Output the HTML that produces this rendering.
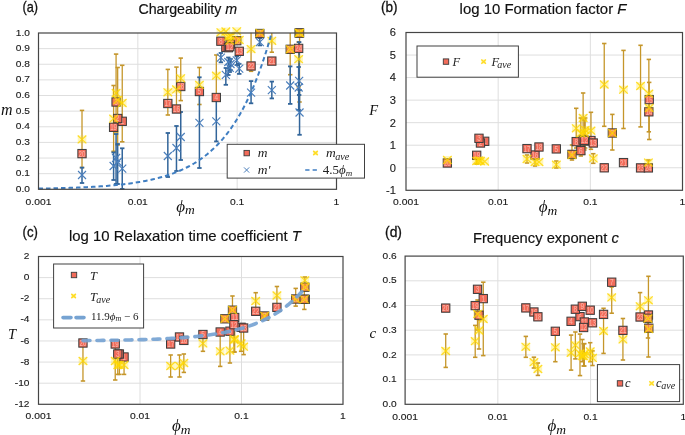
<!DOCTYPE html><html><head><meta charset="utf-8"><style>html,body{margin:0;padding:0;background:#fff;width:685px;height:435px;overflow:hidden}svg{display:block;font-family:"Liberation Sans",sans-serif;will-change:transform}</style></head><body><svg width="685" height="435" viewBox="0 0 685 435"><rect width="685" height="435" fill="#fff"/><line x1="38.5" y1="173.67" x2="336.5" y2="173.67" stroke="#DEDEDE" stroke-width="1"/><line x1="38.5" y1="158.04" x2="336.5" y2="158.04" stroke="#DEDEDE" stroke-width="1"/><line x1="38.5" y1="142.41" x2="336.5" y2="142.41" stroke="#DEDEDE" stroke-width="1"/><line x1="38.5" y1="126.78" x2="336.5" y2="126.78" stroke="#DEDEDE" stroke-width="1"/><line x1="38.5" y1="111.15" x2="336.5" y2="111.15" stroke="#DEDEDE" stroke-width="1"/><line x1="38.5" y1="95.52" x2="336.5" y2="95.52" stroke="#DEDEDE" stroke-width="1"/><line x1="38.5" y1="79.89" x2="336.5" y2="79.89" stroke="#DEDEDE" stroke-width="1"/><line x1="38.5" y1="64.26" x2="336.5" y2="64.26" stroke="#DEDEDE" stroke-width="1"/><line x1="38.5" y1="48.63" x2="336.5" y2="48.63" stroke="#DEDEDE" stroke-width="1"/><line x1="137.83" y1="33" x2="137.83" y2="189.3" stroke="#DEDEDE" stroke-width="1"/><line x1="237.17" y1="33" x2="237.17" y2="189.3" stroke="#DEDEDE" stroke-width="1"/><text x="29.9" y="191.9" font-size="8.6" font-family="Liberation Sans" fill="#1a1a1a" text-anchor="end" textLength="14.11" lengthAdjust="spacingAndGlyphs" stroke="#1a1a1a" stroke-width="0.12">0.0</text><text x="29.9" y="176.27" font-size="8.6" font-family="Liberation Sans" fill="#1a1a1a" text-anchor="end" textLength="14.11" lengthAdjust="spacingAndGlyphs" stroke="#1a1a1a" stroke-width="0.12">0.1</text><text x="29.9" y="160.64" font-size="8.6" font-family="Liberation Sans" fill="#1a1a1a" text-anchor="end" textLength="14.11" lengthAdjust="spacingAndGlyphs" stroke="#1a1a1a" stroke-width="0.12">0.2</text><text x="29.9" y="145.01" font-size="8.6" font-family="Liberation Sans" fill="#1a1a1a" text-anchor="end" textLength="14.11" lengthAdjust="spacingAndGlyphs" stroke="#1a1a1a" stroke-width="0.12">0.3</text><text x="29.9" y="129.38" font-size="8.6" font-family="Liberation Sans" fill="#1a1a1a" text-anchor="end" textLength="14.11" lengthAdjust="spacingAndGlyphs" stroke="#1a1a1a" stroke-width="0.12">0.4</text><text x="29.9" y="113.75" font-size="8.6" font-family="Liberation Sans" fill="#1a1a1a" text-anchor="end" textLength="14.11" lengthAdjust="spacingAndGlyphs" stroke="#1a1a1a" stroke-width="0.12">0.5</text><text x="29.9" y="98.12" font-size="8.6" font-family="Liberation Sans" fill="#1a1a1a" text-anchor="end" textLength="14.11" lengthAdjust="spacingAndGlyphs" stroke="#1a1a1a" stroke-width="0.12">0.6</text><text x="29.9" y="82.49" font-size="8.6" font-family="Liberation Sans" fill="#1a1a1a" text-anchor="end" textLength="14.11" lengthAdjust="spacingAndGlyphs" stroke="#1a1a1a" stroke-width="0.12">0.7</text><text x="29.9" y="66.86" font-size="8.6" font-family="Liberation Sans" fill="#1a1a1a" text-anchor="end" textLength="14.11" lengthAdjust="spacingAndGlyphs" stroke="#1a1a1a" stroke-width="0.12">0.8</text><text x="29.9" y="51.23" font-size="8.6" font-family="Liberation Sans" fill="#1a1a1a" text-anchor="end" textLength="14.11" lengthAdjust="spacingAndGlyphs" stroke="#1a1a1a" stroke-width="0.12">0.9</text><text x="29.9" y="35.6" font-size="8.6" font-family="Liberation Sans" fill="#1a1a1a" text-anchor="end" textLength="14.11" lengthAdjust="spacingAndGlyphs" stroke="#1a1a1a" stroke-width="0.12">1.0</text><text x="38.5" y="204.5" font-size="8.6" font-family="Liberation Sans" fill="#1a1a1a" text-anchor="middle" textLength="25.82" lengthAdjust="spacingAndGlyphs" stroke="#1a1a1a" stroke-width="0.12">0.001</text><text x="137.83" y="204.5" font-size="8.6" font-family="Liberation Sans" fill="#1a1a1a" text-anchor="middle" textLength="20.08" lengthAdjust="spacingAndGlyphs" stroke="#1a1a1a" stroke-width="0.12">0.01</text><text x="237.17" y="204.5" font-size="8.6" font-family="Liberation Sans" fill="#1a1a1a" text-anchor="middle" textLength="14.34" lengthAdjust="spacingAndGlyphs" stroke="#1a1a1a" stroke-width="0.12">0.1</text><text x="336.5" y="204.5" font-size="8.6" font-family="Liberation Sans" fill="#1a1a1a" text-anchor="middle" textLength="5.74" lengthAdjust="spacingAndGlyphs" stroke="#1a1a1a" stroke-width="0.12">1</text><line x1="82.01" y1="110.4" x2="82.01" y2="167.6" stroke="#C5962A" stroke-width="1.3"/><line x1="79.81" y1="110.4" x2="84.21" y2="110.4" stroke="#C5962A" stroke-width="1.6"/><line x1="79.81" y1="167.6" x2="84.21" y2="167.6" stroke="#C5962A" stroke-width="1.6"/><line x1="113.6" y1="85.5" x2="113.6" y2="151.3" stroke="#C5962A" stroke-width="1.3"/><line x1="111.4" y1="85.5" x2="115.8" y2="85.5" stroke="#C5962A" stroke-width="1.6"/><line x1="111.4" y1="151.3" x2="115.8" y2="151.3" stroke="#C5962A" stroke-width="1.6"/><line x1="116.08" y1="54.1" x2="116.08" y2="132" stroke="#C5962A" stroke-width="1.3"/><line x1="113.88" y1="54.1" x2="118.28" y2="54.1" stroke="#C5962A" stroke-width="1.6"/><line x1="113.88" y1="132" x2="118.28" y2="132" stroke="#C5962A" stroke-width="1.6"/><line x1="117.67" y1="67.5" x2="117.67" y2="145" stroke="#C5962A" stroke-width="1.3"/><line x1="115.47" y1="67.5" x2="119.87" y2="67.5" stroke="#C5962A" stroke-width="1.6"/><line x1="115.47" y1="145" x2="119.87" y2="145" stroke="#C5962A" stroke-width="1.6"/><line x1="122.24" y1="65.3" x2="122.24" y2="141.8" stroke="#C5962A" stroke-width="1.3"/><line x1="120.04" y1="65.3" x2="124.44" y2="65.3" stroke="#C5962A" stroke-width="1.6"/><line x1="120.04" y1="141.8" x2="124.44" y2="141.8" stroke="#C5962A" stroke-width="1.6"/><line x1="167.83" y1="69.4" x2="167.83" y2="115" stroke="#C5962A" stroke-width="1.3"/><line x1="165.63" y1="69.4" x2="170.03" y2="69.4" stroke="#C5962A" stroke-width="1.6"/><line x1="165.63" y1="115" x2="170.03" y2="115" stroke="#C5962A" stroke-width="1.6"/><line x1="176.47" y1="67.1" x2="176.47" y2="112" stroke="#C5962A" stroke-width="1.3"/><line x1="174.27" y1="67.1" x2="178.67" y2="67.1" stroke="#C5962A" stroke-width="1.6"/><line x1="174.27" y1="112" x2="178.67" y2="112" stroke="#C5962A" stroke-width="1.6"/><line x1="180.75" y1="58.1" x2="180.75" y2="100.6" stroke="#C5962A" stroke-width="1.3"/><line x1="178.55" y1="58.1" x2="182.95" y2="58.1" stroke="#C5962A" stroke-width="1.6"/><line x1="178.55" y1="100.6" x2="182.95" y2="100.6" stroke="#C5962A" stroke-width="1.6"/><line x1="199.42" y1="67.5" x2="199.42" y2="104.5" stroke="#C5962A" stroke-width="1.3"/><line x1="197.22" y1="67.5" x2="201.62" y2="67.5" stroke="#C5962A" stroke-width="1.6"/><line x1="197.22" y1="104.5" x2="201.62" y2="104.5" stroke="#C5962A" stroke-width="1.6"/><line x1="216.31" y1="55" x2="216.31" y2="97" stroke="#C5962A" stroke-width="1.3"/><line x1="214.11" y1="55" x2="218.51" y2="55" stroke="#C5962A" stroke-width="1.6"/><line x1="214.11" y1="97" x2="218.51" y2="97" stroke="#C5962A" stroke-width="1.6"/><line x1="251.07" y1="32.8" x2="251.07" y2="71.3" stroke="#C5962A" stroke-width="1.3"/><line x1="248.87" y1="71.3" x2="253.27" y2="71.3" stroke="#C5962A" stroke-width="1.6"/><line x1="271.83" y1="32.9" x2="271.83" y2="52.2" stroke="#C5962A" stroke-width="1.3"/><line x1="269.63" y1="52.2" x2="274.03" y2="52.2" stroke="#C5962A" stroke-width="1.6"/><line x1="290.21" y1="32.9" x2="290.21" y2="74.7" stroke="#C5962A" stroke-width="1.3"/><line x1="288.01" y1="74.7" x2="292.41" y2="74.7" stroke="#C5962A" stroke-width="1.6"/><line x1="298.65" y1="42" x2="298.65" y2="86.8" stroke="#C5962A" stroke-width="1.3"/><line x1="296.45" y1="42" x2="300.85" y2="42" stroke="#C5962A" stroke-width="1.6"/><line x1="296.45" y1="86.8" x2="300.85" y2="86.8" stroke="#C5962A" stroke-width="1.6"/><line x1="299.55" y1="33" x2="299.55" y2="102" stroke="#C5962A" stroke-width="1.3"/><line x1="297.35" y1="102" x2="301.75" y2="102" stroke="#C5962A" stroke-width="1.6"/><line x1="82.01" y1="167.6" x2="82.01" y2="183" stroke="#32659A" stroke-width="1.5"/><line x1="79.81" y1="167.6" x2="84.21" y2="167.6" stroke="#32659A" stroke-width="1.8"/><line x1="79.81" y1="183" x2="84.21" y2="183" stroke="#32659A" stroke-width="1.8"/><line x1="113.6" y1="152.4" x2="113.6" y2="180" stroke="#32659A" stroke-width="1.5"/><line x1="111.4" y1="152.4" x2="115.8" y2="152.4" stroke="#32659A" stroke-width="1.8"/><line x1="111.4" y1="180" x2="115.8" y2="180" stroke="#32659A" stroke-width="1.8"/><line x1="116.08" y1="134" x2="116.08" y2="184" stroke="#32659A" stroke-width="1.5"/><line x1="113.88" y1="134" x2="118.28" y2="134" stroke="#32659A" stroke-width="1.8"/><line x1="113.88" y1="184" x2="118.28" y2="184" stroke="#32659A" stroke-width="1.8"/><line x1="117.67" y1="144" x2="117.67" y2="184" stroke="#32659A" stroke-width="1.5"/><line x1="115.47" y1="144" x2="119.87" y2="144" stroke="#32659A" stroke-width="1.8"/><line x1="115.47" y1="184" x2="119.87" y2="184" stroke="#32659A" stroke-width="1.8"/><line x1="122.24" y1="148.3" x2="122.24" y2="189" stroke="#32659A" stroke-width="1.5"/><line x1="120.04" y1="148.3" x2="124.44" y2="148.3" stroke="#32659A" stroke-width="1.8"/><line x1="120.04" y1="189" x2="124.44" y2="189" stroke="#32659A" stroke-width="1.8"/><line x1="167.83" y1="133" x2="167.83" y2="177" stroke="#32659A" stroke-width="1.5"/><line x1="165.63" y1="133" x2="170.03" y2="133" stroke="#32659A" stroke-width="1.8"/><line x1="165.63" y1="177" x2="170.03" y2="177" stroke="#32659A" stroke-width="1.8"/><line x1="176.47" y1="126" x2="176.47" y2="171" stroke="#32659A" stroke-width="1.5"/><line x1="174.27" y1="126" x2="178.67" y2="126" stroke="#32659A" stroke-width="1.8"/><line x1="174.27" y1="171" x2="178.67" y2="171" stroke="#32659A" stroke-width="1.8"/><line x1="180.75" y1="112" x2="180.75" y2="160" stroke="#32659A" stroke-width="1.5"/><line x1="178.55" y1="112" x2="182.95" y2="112" stroke="#32659A" stroke-width="1.8"/><line x1="178.55" y1="160" x2="182.95" y2="160" stroke="#32659A" stroke-width="1.8"/><line x1="199.42" y1="77.3" x2="199.42" y2="168" stroke="#32659A" stroke-width="1.5"/><line x1="197.22" y1="77.3" x2="201.62" y2="77.3" stroke="#32659A" stroke-width="1.8"/><line x1="197.22" y1="168" x2="201.62" y2="168" stroke="#32659A" stroke-width="1.8"/><line x1="216.31" y1="97" x2="216.31" y2="141.4" stroke="#32659A" stroke-width="1.5"/><line x1="214.11" y1="97" x2="218.51" y2="97" stroke="#32659A" stroke-width="1.8"/><line x1="214.11" y1="141.4" x2="218.51" y2="141.4" stroke="#32659A" stroke-width="1.8"/><line x1="220.88" y1="53" x2="220.88" y2="62.3" stroke="#32659A" stroke-width="1.5"/><line x1="218.68" y1="53" x2="223.08" y2="53" stroke="#32659A" stroke-width="1.8"/><line x1="218.68" y1="62.3" x2="223.08" y2="62.3" stroke="#32659A" stroke-width="1.8"/><line x1="225.84" y1="68" x2="225.84" y2="84.8" stroke="#32659A" stroke-width="1.5"/><line x1="223.64" y1="68" x2="228.04" y2="68" stroke="#32659A" stroke-width="1.8"/><line x1="223.64" y1="84.8" x2="228.04" y2="84.8" stroke="#32659A" stroke-width="1.8"/><line x1="228.33" y1="57.5" x2="228.33" y2="75" stroke="#32659A" stroke-width="1.5"/><line x1="226.13" y1="57.5" x2="230.53" y2="57.5" stroke="#32659A" stroke-width="1.8"/><line x1="226.13" y1="75" x2="230.53" y2="75" stroke="#32659A" stroke-width="1.8"/><line x1="229.72" y1="61" x2="229.72" y2="72" stroke="#32659A" stroke-width="1.5"/><line x1="227.52" y1="61" x2="231.92" y2="61" stroke="#32659A" stroke-width="1.8"/><line x1="227.52" y1="72" x2="231.92" y2="72" stroke="#32659A" stroke-width="1.8"/><line x1="230.51" y1="59" x2="230.51" y2="70" stroke="#32659A" stroke-width="1.5"/><line x1="228.31" y1="59" x2="232.71" y2="59" stroke="#32659A" stroke-width="1.8"/><line x1="228.31" y1="70" x2="232.71" y2="70" stroke="#32659A" stroke-width="1.8"/><line x1="236.77" y1="56.4" x2="236.77" y2="65.1" stroke="#32659A" stroke-width="1.5"/><line x1="234.57" y1="56.4" x2="238.97" y2="56.4" stroke="#32659A" stroke-width="1.8"/><line x1="234.57" y1="65.1" x2="238.97" y2="65.1" stroke="#32659A" stroke-width="1.8"/><line x1="239.25" y1="63.8" x2="239.25" y2="73.9" stroke="#32659A" stroke-width="1.5"/><line x1="237.05" y1="63.8" x2="241.45" y2="63.8" stroke="#32659A" stroke-width="1.8"/><line x1="237.05" y1="73.9" x2="241.45" y2="73.9" stroke="#32659A" stroke-width="1.8"/><line x1="251.07" y1="81.1" x2="251.07" y2="103.3" stroke="#32659A" stroke-width="1.5"/><line x1="248.87" y1="81.1" x2="253.27" y2="81.1" stroke="#32659A" stroke-width="1.8"/><line x1="248.87" y1="103.3" x2="253.27" y2="103.3" stroke="#32659A" stroke-width="1.8"/><line x1="259.81" y1="38" x2="259.81" y2="45.4" stroke="#32659A" stroke-width="1.5"/><line x1="257.61" y1="38" x2="262.01" y2="38" stroke="#32659A" stroke-width="1.8"/><line x1="257.61" y1="45.4" x2="262.01" y2="45.4" stroke="#32659A" stroke-width="1.8"/><line x1="271.83" y1="81.6" x2="271.83" y2="98.4" stroke="#32659A" stroke-width="1.5"/><line x1="269.63" y1="81.6" x2="274.03" y2="81.6" stroke="#32659A" stroke-width="1.8"/><line x1="269.63" y1="98.4" x2="274.03" y2="98.4" stroke="#32659A" stroke-width="1.8"/><line x1="290.21" y1="66.4" x2="290.21" y2="103.9" stroke="#32659A" stroke-width="1.5"/><line x1="288.01" y1="66.4" x2="292.41" y2="66.4" stroke="#32659A" stroke-width="1.8"/><line x1="288.01" y1="103.9" x2="292.41" y2="103.9" stroke="#32659A" stroke-width="1.8"/><line x1="299.15" y1="42.1" x2="299.15" y2="95" stroke="#32659A" stroke-width="1.5"/><line x1="296.95" y1="42.1" x2="301.35" y2="42.1" stroke="#32659A" stroke-width="1.8"/><line x1="296.95" y1="95" x2="301.35" y2="95" stroke="#32659A" stroke-width="1.8"/><line x1="298.65" y1="67" x2="298.65" y2="110" stroke="#32659A" stroke-width="1.5"/><line x1="296.45" y1="67" x2="300.85" y2="67" stroke="#32659A" stroke-width="1.8"/><line x1="296.45" y1="110" x2="300.85" y2="110" stroke="#32659A" stroke-width="1.8"/><line x1="299.55" y1="90" x2="299.55" y2="134.8" stroke="#32659A" stroke-width="1.5"/><line x1="297.35" y1="90" x2="301.75" y2="90" stroke="#32659A" stroke-width="1.8"/><line x1="297.35" y1="134.8" x2="301.75" y2="134.8" stroke="#32659A" stroke-width="1.8"/><path d="M78.01 171L86.01 179M78.01 179L86.01 171" stroke="#4A7EBB" stroke-width="1.15" fill="none"/><path d="M109.6 162L117.6 170M109.6 170L117.6 162" stroke="#4A7EBB" stroke-width="1.15" fill="none"/><path d="M112.08 154L120.08 162M112.08 162L120.08 154" stroke="#4A7EBB" stroke-width="1.15" fill="none"/><path d="M113.67 158L121.67 166M113.67 166L121.67 158" stroke="#4A7EBB" stroke-width="1.15" fill="none"/><path d="M118.24 164.7L126.24 172.7M118.24 172.7L126.24 164.7" stroke="#4A7EBB" stroke-width="1.15" fill="none"/><path d="M163.83 152L171.83 160M163.83 160L171.83 152" stroke="#4A7EBB" stroke-width="1.15" fill="none"/><path d="M172.47 144L180.47 152M172.47 152L180.47 144" stroke="#4A7EBB" stroke-width="1.15" fill="none"/><path d="M176.75 133L184.75 141M176.75 141L184.75 133" stroke="#4A7EBB" stroke-width="1.15" fill="none"/><path d="M195.42 118.9L203.42 126.9M195.42 126.9L203.42 118.9" stroke="#4A7EBB" stroke-width="1.15" fill="none"/><path d="M212.31 117.3L220.31 125.3M212.31 125.3L220.31 117.3" stroke="#4A7EBB" stroke-width="1.15" fill="none"/><path d="M216.88 53.7L224.88 61.7M216.88 61.7L224.88 53.7" stroke="#4A7EBB" stroke-width="1.15" fill="none"/><path d="M221.84 70.8L229.84 78.8M221.84 78.8L229.84 70.8" stroke="#4A7EBB" stroke-width="1.15" fill="none"/><path d="M224.33 58L232.33 66M224.33 66L232.33 58" stroke="#4A7EBB" stroke-width="1.15" fill="none"/><path d="M225.72 63.8L233.72 71.8M225.72 71.8L233.72 63.8" stroke="#4A7EBB" stroke-width="1.15" fill="none"/><path d="M226.51 60L234.51 68M226.51 68L234.51 60" stroke="#4A7EBB" stroke-width="1.15" fill="none"/><path d="M232.77 56.3L240.77 64.3M232.77 64.3L240.77 56.3" stroke="#4A7EBB" stroke-width="1.15" fill="none"/><path d="M235.25 64.6L243.25 72.6M235.25 72.6L243.25 64.6" stroke="#4A7EBB" stroke-width="1.15" fill="none"/><path d="M247.07 88.7L255.07 96.7M247.07 96.7L255.07 88.7" stroke="#4A7EBB" stroke-width="1.15" fill="none"/><path d="M255.81 38.1L263.81 46.1M255.81 46.1L263.81 38.1" stroke="#4A7EBB" stroke-width="1.15" fill="none"/><path d="M267.83 86.1L275.83 94.1M267.83 94.1L275.83 86.1" stroke="#4A7EBB" stroke-width="1.15" fill="none"/><path d="M286.21 81.5L294.21 89.5M286.21 89.5L294.21 81.5" stroke="#4A7EBB" stroke-width="1.15" fill="none"/><path d="M295.15 76.9L303.15 84.9M295.15 84.9L303.15 76.9" stroke="#4A7EBB" stroke-width="1.15" fill="none"/><path d="M294.65 83.5L302.65 91.5M294.65 91.5L302.65 83.5" stroke="#4A7EBB" stroke-width="1.15" fill="none"/><path d="M295.55 108.5L303.55 116.5M295.55 116.5L303.55 108.5" stroke="#4A7EBB" stroke-width="1.15" fill="none"/><rect x="118.09" y="117.15" width="8.3" height="8.3" fill="#F26C5A" stroke="#3b3b3b" stroke-width="1"/><text x="122.24" y="124.2" font-size="8.2" fill="#FFE0D8" fill-opacity="0.62" text-anchor="middle" font-family="Liberation Sans" textLength="3.6" lengthAdjust="spacingAndGlyphs">1</text><rect x="113.52" y="114.35" width="8.3" height="8.3" fill="#F26C5A" stroke="#3b3b3b" stroke-width="1"/><text x="117.67" y="121.4" font-size="8.2" fill="#FFE0D8" fill-opacity="0.62" text-anchor="middle" font-family="Liberation Sans" textLength="3.6" lengthAdjust="spacingAndGlyphs">2</text><rect x="111.93" y="97.85" width="8.3" height="8.3" fill="#F26C5A" stroke="#3b3b3b" stroke-width="1"/><text x="116.08" y="104.9" font-size="8.2" fill="#FFE0D8" fill-opacity="0.62" text-anchor="middle" font-family="Liberation Sans" textLength="3.6" lengthAdjust="spacingAndGlyphs">3</text><rect x="212.16" y="93.35" width="8.3" height="8.3" fill="#F26C5A" stroke="#3b3b3b" stroke-width="1"/><text x="216.31" y="100.4" font-size="8.2" fill="#FFE0D8" fill-opacity="0.62" text-anchor="middle" font-family="Liberation Sans" textLength="3.6" lengthAdjust="spacingAndGlyphs">4</text><rect x="195.27" y="87.35" width="8.3" height="8.3" fill="#F26C5A" stroke="#3b3b3b" stroke-width="1"/><text x="199.42" y="94.4" font-size="8.2" fill="#FFE0D8" fill-opacity="0.62" text-anchor="middle" font-family="Liberation Sans" textLength="3.6" lengthAdjust="spacingAndGlyphs">5</text><rect x="221.69" y="43.15" width="8.3" height="8.3" fill="#F26C5A" stroke="#3b3b3b" stroke-width="1"/><text x="225.84" y="50.2" font-size="8.2" fill="#FFE0D8" fill-opacity="0.62" text-anchor="middle" font-family="Liberation Sans" textLength="3.6" lengthAdjust="spacingAndGlyphs">6</text><rect x="255.66" y="29.35" width="8.3" height="8.3" fill="#F26C5A" stroke="#3b3b3b" stroke-width="1"/><text x="259.81" y="36.4" font-size="8.2" fill="#FFE0D8" fill-opacity="0.62" text-anchor="middle" font-family="Liberation Sans" textLength="3.6" lengthAdjust="spacingAndGlyphs">7</text><rect x="216.73" y="37.05" width="8.3" height="8.3" fill="#F26C5A" stroke="#3b3b3b" stroke-width="1"/><text x="220.88" y="44.1" font-size="8.2" fill="#FFE0D8" fill-opacity="0.62" text-anchor="middle" font-family="Liberation Sans" textLength="3.6" lengthAdjust="spacingAndGlyphs">8</text><rect x="224.18" y="43.55" width="8.3" height="8.3" fill="#F26C5A" stroke="#3b3b3b" stroke-width="1"/><text x="228.33" y="50.6" font-size="8.2" fill="#FFE0D8" fill-opacity="0.62" text-anchor="middle" font-family="Liberation Sans" textLength="3.6" lengthAdjust="spacingAndGlyphs">9</text><rect x="232.62" y="36.55" width="8.3" height="8.3" fill="#F26C5A" stroke="#3b3b3b" stroke-width="1"/><text x="236.77" y="43.6" font-size="8.2" fill="#FFE0D8" fill-opacity="0.62" text-anchor="middle" font-family="Liberation Sans" textLength="6.8" lengthAdjust="spacingAndGlyphs">10</text><rect x="226.36" y="39.85" width="8.3" height="8.3" fill="#F26C5A" stroke="#3b3b3b" stroke-width="1"/><text x="230.51" y="46.9" font-size="8.2" fill="#FFE0D8" fill-opacity="0.62" text-anchor="middle" font-family="Liberation Sans" textLength="6.8" lengthAdjust="spacingAndGlyphs">11</text><rect x="225.57" y="42.55" width="8.3" height="8.3" fill="#F26C5A" stroke="#3b3b3b" stroke-width="1"/><text x="229.72" y="49.6" font-size="8.2" fill="#FFE0D8" fill-opacity="0.62" text-anchor="middle" font-family="Liberation Sans" textLength="6.8" lengthAdjust="spacingAndGlyphs">12</text><rect x="235.1" y="47.15" width="8.3" height="8.3" fill="#F26C5A" stroke="#3b3b3b" stroke-width="1"/><text x="239.25" y="54.2" font-size="8.2" fill="#FFE0D8" fill-opacity="0.62" text-anchor="middle" font-family="Liberation Sans" textLength="6.8" lengthAdjust="spacingAndGlyphs">13</text><rect x="295" y="28.85" width="8.3" height="8.3" fill="#F26C5A" stroke="#3b3b3b" stroke-width="1"/><text x="299.15" y="35.9" font-size="8.2" fill="#FFE0D8" fill-opacity="0.62" text-anchor="middle" font-family="Liberation Sans" textLength="6.8" lengthAdjust="spacingAndGlyphs">14</text><rect x="295.4" y="28.85" width="8.3" height="8.3" fill="#F26C5A" stroke="#3b3b3b" stroke-width="1"/><text x="299.55" y="35.9" font-size="8.2" fill="#FFE0D8" fill-opacity="0.62" text-anchor="middle" font-family="Liberation Sans" textLength="6.8" lengthAdjust="spacingAndGlyphs">15</text><rect x="172.32" y="104.85" width="8.3" height="8.3" fill="#F26C5A" stroke="#3b3b3b" stroke-width="1"/><text x="176.47" y="111.9" font-size="8.2" fill="#FFE0D8" fill-opacity="0.62" text-anchor="middle" font-family="Liberation Sans" textLength="6.8" lengthAdjust="spacingAndGlyphs">16</text><rect x="163.68" y="99.35" width="8.3" height="8.3" fill="#F26C5A" stroke="#3b3b3b" stroke-width="1"/><text x="167.83" y="106.4" font-size="8.2" fill="#FFE0D8" fill-opacity="0.62" text-anchor="middle" font-family="Liberation Sans" textLength="6.8" lengthAdjust="spacingAndGlyphs">17</text><rect x="176.6" y="82.35" width="8.3" height="8.3" fill="#F26C5A" stroke="#3b3b3b" stroke-width="1"/><text x="180.75" y="89.4" font-size="8.2" fill="#FFE0D8" fill-opacity="0.62" text-anchor="middle" font-family="Liberation Sans" textLength="6.8" lengthAdjust="spacingAndGlyphs">18</text><rect x="109.45" y="123.15" width="8.3" height="8.3" fill="#F26C5A" stroke="#3b3b3b" stroke-width="1"/><text x="113.6" y="130.2" font-size="8.2" fill="#FFE0D8" fill-opacity="0.62" text-anchor="middle" font-family="Liberation Sans" textLength="6.8" lengthAdjust="spacingAndGlyphs">19</text><rect x="77.86" y="149.45" width="8.3" height="8.3" fill="#F26C5A" stroke="#3b3b3b" stroke-width="1"/><text x="82.01" y="156.5" font-size="8.2" fill="#FFE0D8" fill-opacity="0.62" text-anchor="middle" font-family="Liberation Sans" textLength="6.8" lengthAdjust="spacingAndGlyphs">20</text><rect x="267.68" y="56.95" width="8.3" height="8.3" fill="#F26C5A" stroke="#3b3b3b" stroke-width="1"/><text x="271.83" y="64" font-size="8.2" fill="#FFE0D8" fill-opacity="0.62" text-anchor="middle" font-family="Liberation Sans" textLength="6.8" lengthAdjust="spacingAndGlyphs">21</text><rect x="246.92" y="61.85" width="8.3" height="8.3" fill="#F26C5A" stroke="#3b3b3b" stroke-width="1"/><text x="251.07" y="68.9" font-size="8.2" fill="#FFE0D8" fill-opacity="0.62" text-anchor="middle" font-family="Liberation Sans" textLength="6.8" lengthAdjust="spacingAndGlyphs">22</text><rect x="286.06" y="45.15" width="8.3" height="8.3" fill="#F26C5A" stroke="#3b3b3b" stroke-width="1"/><text x="290.21" y="52.2" font-size="8.2" fill="#FFE0D8" fill-opacity="0.62" text-anchor="middle" font-family="Liberation Sans" textLength="6.8" lengthAdjust="spacingAndGlyphs">23</text><rect x="294.5" y="44.25" width="8.3" height="8.3" fill="#F26C5A" stroke="#3b3b3b" stroke-width="1"/><text x="298.65" y="51.3" font-size="8.2" fill="#FFE0D8" fill-opacity="0.62" text-anchor="middle" font-family="Liberation Sans" textLength="6.8" lengthAdjust="spacingAndGlyphs">24</text><rect x="117.94" y="99.04" width="8.6" height="7.91" fill="#FFE000" fill-opacity="0.28"/><path d="M117.94 99.04L126.54 106.96M117.94 106.96L126.54 99.04" stroke="#FFD600" stroke-opacity="0.8" stroke-width="1.2" fill="none"/><rect x="113.37" y="96.04" width="8.6" height="7.91" fill="#FFE000" fill-opacity="0.28"/><path d="M113.37 96.04L121.97 103.96M113.37 103.96L121.97 96.04" stroke="#FFD600" stroke-opacity="0.8" stroke-width="1.2" fill="none"/><rect x="111.78" y="89.04" width="8.6" height="7.91" fill="#FFE000" fill-opacity="0.28"/><path d="M111.78 89.04L120.38 96.96M111.78 96.96L120.38 89.04" stroke="#FFD600" stroke-opacity="0.8" stroke-width="1.2" fill="none"/><rect x="212.01" y="71.74" width="8.6" height="7.91" fill="#FFE000" fill-opacity="0.28"/><path d="M212.01 71.74L220.61 79.66M212.01 79.66L220.61 71.74" stroke="#FFD600" stroke-opacity="0.8" stroke-width="1.2" fill="none"/><rect x="195.12" y="80.84" width="8.6" height="7.91" fill="#FFE000" fill-opacity="0.28"/><path d="M195.12 80.84L203.72 88.76M195.12 88.76L203.72 80.84" stroke="#FFD600" stroke-opacity="0.8" stroke-width="1.2" fill="none"/><rect x="221.54" y="27.54" width="8.6" height="7.91" fill="#FFE000" fill-opacity="0.28"/><path d="M221.54 27.54L230.14 35.46M221.54 35.46L230.14 27.54" stroke="#FFD600" stroke-opacity="0.8" stroke-width="1.2" fill="none"/><rect x="255.51" y="29.04" width="8.6" height="7.91" fill="#FFE000" fill-opacity="0.28"/><path d="M255.51 29.04L264.11 36.96M255.51 36.96L264.11 29.04" stroke="#FFD600" stroke-opacity="0.8" stroke-width="1.2" fill="none"/><rect x="216.58" y="28.34" width="8.6" height="7.91" fill="#FFE000" fill-opacity="0.28"/><path d="M216.58 28.34L225.18 36.26M216.58 36.26L225.18 28.34" stroke="#FFD600" stroke-opacity="0.8" stroke-width="1.2" fill="none"/><rect x="224.03" y="32.74" width="8.6" height="7.91" fill="#FFE000" fill-opacity="0.28"/><path d="M224.03 32.74L232.63 40.66M224.03 40.66L232.63 32.74" stroke="#FFD600" stroke-opacity="0.8" stroke-width="1.2" fill="none"/><rect x="232.47" y="27.34" width="8.6" height="7.91" fill="#FFE000" fill-opacity="0.28"/><path d="M232.47 27.34L241.07 35.26M232.47 35.26L241.07 27.34" stroke="#FFD600" stroke-opacity="0.8" stroke-width="1.2" fill="none"/><rect x="226.21" y="32.04" width="8.6" height="7.91" fill="#FFE000" fill-opacity="0.28"/><path d="M226.21 32.04L234.81 39.96M226.21 39.96L234.81 32.04" stroke="#FFD600" stroke-opacity="0.8" stroke-width="1.2" fill="none"/><rect x="225.42" y="36.74" width="8.6" height="7.91" fill="#FFE000" fill-opacity="0.28"/><path d="M225.42 36.74L234.02 44.66M225.42 44.66L234.02 36.74" stroke="#FFD600" stroke-opacity="0.8" stroke-width="1.2" fill="none"/><rect x="234.95" y="36.04" width="8.6" height="7.91" fill="#FFE000" fill-opacity="0.28"/><path d="M234.95 36.04L243.55 43.96M234.95 43.96L243.55 36.04" stroke="#FFD600" stroke-opacity="0.8" stroke-width="1.2" fill="none"/><rect x="294.85" y="28.94" width="8.6" height="7.91" fill="#FFE000" fill-opacity="0.28"/><path d="M294.85 28.94L303.45 36.86M294.85 36.86L303.45 28.94" stroke="#FFD600" stroke-opacity="0.8" stroke-width="1.2" fill="none"/><rect x="295.25" y="29.04" width="8.6" height="7.91" fill="#FFE000" fill-opacity="0.28"/><path d="M295.25 29.04L303.85 36.96M295.25 36.96L303.85 29.04" stroke="#FFD600" stroke-opacity="0.8" stroke-width="1.2" fill="none"/><rect x="172.17" y="85.44" width="8.6" height="7.91" fill="#FFE000" fill-opacity="0.28"/><path d="M172.17 85.44L180.77 93.36M172.17 93.36L180.77 85.44" stroke="#FFD600" stroke-opacity="0.8" stroke-width="1.2" fill="none"/><rect x="163.53" y="88.34" width="8.6" height="7.91" fill="#FFE000" fill-opacity="0.28"/><path d="M163.53 88.34L172.13 96.26M163.53 96.26L172.13 88.34" stroke="#FFD600" stroke-opacity="0.8" stroke-width="1.2" fill="none"/><rect x="176.45" y="74.34" width="8.6" height="7.91" fill="#FFE000" fill-opacity="0.28"/><path d="M176.45 74.34L185.05 82.26M176.45 82.26L185.05 74.34" stroke="#FFD600" stroke-opacity="0.8" stroke-width="1.2" fill="none"/><rect x="109.3" y="114.74" width="8.6" height="7.91" fill="#FFE000" fill-opacity="0.28"/><path d="M109.3 114.74L117.9 122.66M109.3 122.66L117.9 114.74" stroke="#FFD600" stroke-opacity="0.8" stroke-width="1.2" fill="none"/><rect x="77.71" y="135.44" width="8.6" height="7.91" fill="#FFE000" fill-opacity="0.28"/><path d="M77.71 135.44L86.31 143.36M77.71 143.36L86.31 135.44" stroke="#FFD600" stroke-opacity="0.8" stroke-width="1.2" fill="none"/><rect x="267.53" y="36.84" width="8.6" height="7.91" fill="#FFE000" fill-opacity="0.28"/><path d="M267.53 36.84L276.13 44.76M267.53 44.76L276.13 36.84" stroke="#FFD600" stroke-opacity="0.8" stroke-width="1.2" fill="none"/><rect x="246.77" y="45.14" width="8.6" height="7.91" fill="#FFE000" fill-opacity="0.28"/><path d="M246.77 45.14L255.37 53.06M246.77 53.06L255.37 45.14" stroke="#FFD600" stroke-opacity="0.8" stroke-width="1.2" fill="none"/><rect x="285.91" y="45.34" width="8.6" height="7.91" fill="#FFE000" fill-opacity="0.28"/><path d="M285.91 45.34L294.51 53.26M285.91 53.26L294.51 45.34" stroke="#FFD600" stroke-opacity="0.8" stroke-width="1.2" fill="none"/><rect x="294.35" y="55.24" width="8.6" height="7.91" fill="#FFE000" fill-opacity="0.28"/><path d="M294.35 55.24L302.95 63.16M294.35 63.16L302.95 55.24" stroke="#FFD600" stroke-opacity="0.8" stroke-width="1.2" fill="none"/><path d="M38.5 188.6 L40.44 188.56 L42.39 188.53 L44.33 188.49 L46.27 188.46 L48.21 188.42 L50.16 188.38 L52.1 188.34 L54.04 188.29 L55.98 188.25 L57.93 188.2 L59.87 188.15 L61.81 188.09 L63.75 188.04 L65.7 187.98 L67.64 187.92 L69.58 187.85 L71.52 187.79 L73.47 187.72 L75.41 187.65 L77.35 187.57 L79.29 187.49 L81.24 187.41 L83.18 187.32 L85.12 187.23 L87.07 187.13 L89.01 187.03 L90.95 186.93 L92.89 186.82 L94.84 186.7 L96.78 186.58 L98.72 186.46 L100.66 186.33 L102.61 186.19 L104.55 186.05 L106.49 185.9 L108.43 185.74 L110.38 185.58 L112.32 185.41 L114.26 185.23 L116.2 185.04 L118.15 184.84 L120.09 184.64 L122.03 184.42 L123.98 184.2 L125.92 183.96 L127.86 183.72 L129.8 183.46 L131.75 183.19 L133.69 182.91 L135.63 182.62 L137.57 182.31 L139.52 181.99 L141.46 181.65 L143.4 181.3 L145.34 180.93 L147.29 180.54 L149.23 180.14 L151.17 179.72 L153.11 179.28 L155.06 178.82 L157 178.33 L158.94 177.83 L160.88 177.3 L162.83 176.75 L164.77 176.17 L166.71 175.56 L168.66 174.93 L170.6 174.27 L172.54 173.58 L174.48 172.85 L176.43 172.09 L178.37 171.3 L180.31 170.47 L182.25 169.6 L184.2 168.7 L186.14 167.75 L188.08 166.76 L190.02 165.72 L191.97 164.63 L193.91 163.5 L195.85 162.31 L197.79 161.06 L199.74 159.76 L201.68 158.4 L203.62 156.98 L205.57 155.49 L207.51 153.93 L209.45 152.3 L211.39 150.6 L213.34 148.82 L215.28 146.95 L217.22 145 L219.16 142.96 L221.11 140.83 L223.05 138.6 L224.99 136.26 L226.93 133.82 L228.88 131.26 L230.82 128.59 L232.76 125.79 L234.7 122.87 L236.65 119.81 L238.59 116.61 L240.53 113.26 L242.47 109.76 L244.42 106.09 L246.36 102.26 L248.3 98.25 L250.25 94.06 L252.19 89.67 L254.13 85.08 L256.07 80.28 L258.02 75.26 L259.96 70.01 L261.9 64.51 L263.84 58.76 L265.79 52.75 L267.73 46.46 L269.67 39.88 L271.61 33" stroke="#3F7EC2" stroke-width="2" stroke-dasharray="4.5 3" fill="none"/><rect x="38.5" y="33" width="298" height="156.3" fill="none" stroke="#454545" stroke-width="1.2"/><rect x="227.2" y="144.3" width="137.3" height="33.8" fill="#fff" stroke="#404040" stroke-width="1"/><rect x="244" y="150.4" width="5.4" height="5.4" fill="#F26C5A" stroke="#3b3b3b" stroke-width="0.9"/><text x="257.7" y="156.8" font-size="13.5" font-family="Liberation Serif" font-style="italic" fill="#222" text-anchor="start">m</text><rect x="313.2" y="150.88" width="4.6" height="4.23" fill="#FFE000" fill-opacity="0.28"/><path d="M313.2 150.88L317.8 155.12M313.2 155.12L317.8 150.88" stroke="#FFD600" stroke-opacity="0.8" stroke-width="1.4" fill="none"/><text x="325.9" y="156.8" font-size="13.5" font-family="Liberation Serif" font-style="italic" fill="#222" text-anchor="start">m</text><text x="335.2" y="159.5" font-size="10" font-family="Liberation Serif" font-style="italic" fill="#222" text-anchor="start" textLength="14.2" lengthAdjust="spacingAndGlyphs">ave</text><path d="M244 167.4L249.2 172.6M244 172.6L249.2 167.4" stroke="#4A7EBB" stroke-width="1" fill="none"/><text x="257.7" y="174" font-size="13.5" font-family="Liberation Serif" font-style="italic" fill="#222" text-anchor="start">m′</text><path d="M305.2 170H309.5M312.6 170H316.9" stroke="#3F7EC2" stroke-width="1.7"/><text x="322.8" y="174" font-size="13" font-family="Liberation Serif" fill="#222" text-anchor="start">4.5<tspan font-style="italic">ϕ</tspan><tspan font-style="italic" font-size="9" dy="1.8">m</tspan></text><line x1="406" y1="167.76" x2="682.5" y2="167.76" stroke="#DEDEDE" stroke-width="1"/><line x1="406" y1="145.21" x2="682.5" y2="145.21" stroke="#DEDEDE" stroke-width="1"/><line x1="406" y1="122.67" x2="682.5" y2="122.67" stroke="#DEDEDE" stroke-width="1"/><line x1="406" y1="100.13" x2="682.5" y2="100.13" stroke="#DEDEDE" stroke-width="1"/><line x1="406" y1="77.59" x2="682.5" y2="77.59" stroke="#DEDEDE" stroke-width="1"/><line x1="406" y1="55.04" x2="682.5" y2="55.04" stroke="#DEDEDE" stroke-width="1"/><line x1="498.17" y1="32.5" x2="498.17" y2="190.3" stroke="#DEDEDE" stroke-width="1"/><line x1="590.33" y1="32.5" x2="590.33" y2="190.3" stroke="#DEDEDE" stroke-width="1"/><text x="396" y="194.2" font-size="10.3" font-family="Liberation Sans" fill="#1a1a1a" text-anchor="end" textLength="9.89" lengthAdjust="spacingAndGlyphs" stroke="#1a1a1a" stroke-width="0.12">-1</text><text x="396" y="171.66" font-size="10.3" font-family="Liberation Sans" fill="#1a1a1a" text-anchor="end" textLength="6.18" lengthAdjust="spacingAndGlyphs" stroke="#1a1a1a" stroke-width="0.12">0</text><text x="396" y="149.11" font-size="10.3" font-family="Liberation Sans" fill="#1a1a1a" text-anchor="end" textLength="6.18" lengthAdjust="spacingAndGlyphs" stroke="#1a1a1a" stroke-width="0.12">1</text><text x="396" y="126.57" font-size="10.3" font-family="Liberation Sans" fill="#1a1a1a" text-anchor="end" textLength="6.18" lengthAdjust="spacingAndGlyphs" stroke="#1a1a1a" stroke-width="0.12">2</text><text x="396" y="104.03" font-size="10.3" font-family="Liberation Sans" fill="#1a1a1a" text-anchor="end" textLength="6.18" lengthAdjust="spacingAndGlyphs" stroke="#1a1a1a" stroke-width="0.12">3</text><text x="396" y="81.49" font-size="10.3" font-family="Liberation Sans" fill="#1a1a1a" text-anchor="end" textLength="6.18" lengthAdjust="spacingAndGlyphs" stroke="#1a1a1a" stroke-width="0.12">4</text><text x="396" y="58.94" font-size="10.3" font-family="Liberation Sans" fill="#1a1a1a" text-anchor="end" textLength="6.18" lengthAdjust="spacingAndGlyphs" stroke="#1a1a1a" stroke-width="0.12">5</text><text x="396" y="36.4" font-size="10.3" font-family="Liberation Sans" fill="#1a1a1a" text-anchor="end" textLength="6.18" lengthAdjust="spacingAndGlyphs" stroke="#1a1a1a" stroke-width="0.12">6</text><text x="406" y="205" font-size="8.6" font-family="Liberation Sans" fill="#1a1a1a" text-anchor="middle" textLength="25.82" lengthAdjust="spacingAndGlyphs" stroke="#1a1a1a" stroke-width="0.12">0.001</text><text x="498.17" y="205" font-size="8.6" font-family="Liberation Sans" fill="#1a1a1a" text-anchor="middle" textLength="20.08" lengthAdjust="spacingAndGlyphs" stroke="#1a1a1a" stroke-width="0.12">0.01</text><text x="590.33" y="205" font-size="8.6" font-family="Liberation Sans" fill="#1a1a1a" text-anchor="middle" textLength="14.34" lengthAdjust="spacingAndGlyphs" stroke="#1a1a1a" stroke-width="0.12">0.1</text><text x="682.5" y="205" font-size="8.6" font-family="Liberation Sans" fill="#1a1a1a" text-anchor="middle" textLength="5.74" lengthAdjust="spacingAndGlyphs" stroke="#1a1a1a" stroke-width="0.12">1</text><line x1="476.68" y1="158" x2="476.68" y2="164" stroke="#C5962A" stroke-width="1.3"/><line x1="474.48" y1="158" x2="478.88" y2="158" stroke="#C5962A" stroke-width="1.6"/><line x1="474.48" y1="164" x2="478.88" y2="164" stroke="#C5962A" stroke-width="1.6"/><line x1="527" y1="155" x2="527" y2="163" stroke="#C5962A" stroke-width="1.3"/><line x1="524.8" y1="155" x2="529.2" y2="155" stroke="#C5962A" stroke-width="1.6"/><line x1="524.8" y1="163" x2="529.2" y2="163" stroke="#C5962A" stroke-width="1.6"/><line x1="535.02" y1="158" x2="535.02" y2="166" stroke="#C5962A" stroke-width="1.3"/><line x1="532.82" y1="158" x2="537.22" y2="158" stroke="#C5962A" stroke-width="1.6"/><line x1="532.82" y1="166" x2="537.22" y2="166" stroke="#C5962A" stroke-width="1.6"/><line x1="556.31" y1="161" x2="556.31" y2="168" stroke="#C5962A" stroke-width="1.3"/><line x1="554.11" y1="161" x2="558.51" y2="161" stroke="#C5962A" stroke-width="1.6"/><line x1="554.11" y1="168" x2="558.51" y2="168" stroke="#C5962A" stroke-width="1.6"/><line x1="571.98" y1="145" x2="571.98" y2="160" stroke="#C5962A" stroke-width="1.3"/><line x1="569.78" y1="145" x2="574.18" y2="145" stroke="#C5962A" stroke-width="1.6"/><line x1="569.78" y1="160" x2="574.18" y2="160" stroke="#C5962A" stroke-width="1.6"/><line x1="576.22" y1="108.3" x2="576.22" y2="148" stroke="#C5962A" stroke-width="1.3"/><line x1="574.02" y1="108.3" x2="578.42" y2="108.3" stroke="#C5962A" stroke-width="1.6"/><line x1="574.02" y1="148" x2="578.42" y2="148" stroke="#C5962A" stroke-width="1.6"/><line x1="580.83" y1="118" x2="580.83" y2="156" stroke="#C5962A" stroke-width="1.3"/><line x1="578.63" y1="118" x2="583.03" y2="118" stroke="#C5962A" stroke-width="1.6"/><line x1="578.63" y1="156" x2="583.03" y2="156" stroke="#C5962A" stroke-width="1.6"/><line x1="583.13" y1="93" x2="583.13" y2="154.3" stroke="#C5962A" stroke-width="1.3"/><line x1="580.93" y1="93" x2="585.33" y2="93" stroke="#C5962A" stroke-width="1.6"/><line x1="580.93" y1="154.3" x2="585.33" y2="154.3" stroke="#C5962A" stroke-width="1.6"/><line x1="584.42" y1="120" x2="584.42" y2="150" stroke="#C5962A" stroke-width="1.3"/><line x1="582.22" y1="120" x2="586.62" y2="120" stroke="#C5962A" stroke-width="1.6"/><line x1="582.22" y1="150" x2="586.62" y2="150" stroke="#C5962A" stroke-width="1.6"/><line x1="585.16" y1="118" x2="585.16" y2="148" stroke="#C5962A" stroke-width="1.3"/><line x1="582.96" y1="118" x2="587.36" y2="118" stroke="#C5962A" stroke-width="1.6"/><line x1="582.96" y1="148" x2="587.36" y2="148" stroke="#C5962A" stroke-width="1.6"/><line x1="590.96" y1="112.3" x2="590.96" y2="149.3" stroke="#C5962A" stroke-width="1.3"/><line x1="588.76" y1="112.3" x2="593.16" y2="112.3" stroke="#C5962A" stroke-width="1.6"/><line x1="588.76" y1="149.3" x2="593.16" y2="149.3" stroke="#C5962A" stroke-width="1.6"/><line x1="593.27" y1="153.7" x2="593.27" y2="163.3" stroke="#C5962A" stroke-width="1.3"/><line x1="591.07" y1="153.7" x2="595.47" y2="153.7" stroke="#C5962A" stroke-width="1.6"/><line x1="591.07" y1="163.3" x2="595.47" y2="163.3" stroke="#C5962A" stroke-width="1.6"/><line x1="604.24" y1="43.5" x2="604.24" y2="126.3" stroke="#C5962A" stroke-width="1.3"/><line x1="602.04" y1="43.5" x2="606.44" y2="43.5" stroke="#C5962A" stroke-width="1.6"/><line x1="602.04" y1="126.3" x2="606.44" y2="126.3" stroke="#C5962A" stroke-width="1.6"/><line x1="612.35" y1="114.4" x2="612.35" y2="150" stroke="#C5962A" stroke-width="1.3"/><line x1="610.15" y1="114.4" x2="614.55" y2="114.4" stroke="#C5962A" stroke-width="1.6"/><line x1="610.15" y1="150" x2="614.55" y2="150" stroke="#C5962A" stroke-width="1.6"/><line x1="623.5" y1="50.4" x2="623.5" y2="128.5" stroke="#C5962A" stroke-width="1.3"/><line x1="621.3" y1="50.4" x2="625.7" y2="50.4" stroke="#C5962A" stroke-width="1.6"/><line x1="621.3" y1="128.5" x2="625.7" y2="128.5" stroke="#C5962A" stroke-width="1.6"/><line x1="640.55" y1="45.3" x2="640.55" y2="126.9" stroke="#C5962A" stroke-width="1.3"/><line x1="638.35" y1="45.3" x2="642.75" y2="45.3" stroke="#C5962A" stroke-width="1.6"/><line x1="638.35" y1="126.9" x2="642.75" y2="126.9" stroke="#C5962A" stroke-width="1.6"/><line x1="648.85" y1="59.4" x2="648.85" y2="131.8" stroke="#C5962A" stroke-width="1.3"/><line x1="646.65" y1="59.4" x2="651.05" y2="59.4" stroke="#C5962A" stroke-width="1.6"/><line x1="646.65" y1="131.8" x2="651.05" y2="131.8" stroke="#C5962A" stroke-width="1.6"/><line x1="649.21" y1="82.4" x2="649.21" y2="139.5" stroke="#C5962A" stroke-width="1.3"/><line x1="647.01" y1="82.4" x2="651.41" y2="82.4" stroke="#C5962A" stroke-width="1.6"/><line x1="647.01" y1="139.5" x2="651.41" y2="139.5" stroke="#C5962A" stroke-width="1.6"/><line x1="648.38" y1="160" x2="648.38" y2="165" stroke="#C5962A" stroke-width="1.3"/><line x1="646.18" y1="160" x2="650.58" y2="160" stroke="#C5962A" stroke-width="1.6"/><line x1="646.18" y1="165" x2="650.58" y2="165" stroke="#C5962A" stroke-width="1.6"/><rect x="480.55" y="137.15" width="8.3" height="8.3" fill="#F26C5A" stroke="#3b3b3b" stroke-width="1"/><text x="484.7" y="144.2" font-size="8.2" fill="#FFE0D8" fill-opacity="0.62" text-anchor="middle" font-family="Liberation Sans" textLength="3.6" lengthAdjust="spacingAndGlyphs">1</text><rect x="476.31" y="138.85" width="8.3" height="8.3" fill="#F26C5A" stroke="#3b3b3b" stroke-width="1"/><text x="480.46" y="145.9" font-size="8.2" fill="#FFE0D8" fill-opacity="0.62" text-anchor="middle" font-family="Liberation Sans" textLength="3.6" lengthAdjust="spacingAndGlyphs">2</text><rect x="474.83" y="134.15" width="8.3" height="8.3" fill="#F26C5A" stroke="#3b3b3b" stroke-width="1"/><text x="478.98" y="141.2" font-size="8.2" fill="#FFE0D8" fill-opacity="0.62" text-anchor="middle" font-family="Liberation Sans" textLength="3.6" lengthAdjust="spacingAndGlyphs">3</text><rect x="567.83" y="150.25" width="8.3" height="8.3" fill="#F26C5A" stroke="#3b3b3b" stroke-width="1"/><text x="571.98" y="157.3" font-size="8.2" fill="#FFE0D8" fill-opacity="0.62" text-anchor="middle" font-family="Liberation Sans" textLength="3.6" lengthAdjust="spacingAndGlyphs">4</text><rect x="552.16" y="144.75" width="8.3" height="8.3" fill="#F26C5A" stroke="#3b3b3b" stroke-width="1"/><text x="556.31" y="151.8" font-size="8.2" fill="#FFE0D8" fill-opacity="0.62" text-anchor="middle" font-family="Liberation Sans" textLength="3.6" lengthAdjust="spacingAndGlyphs">5</text><rect x="576.68" y="146.45" width="8.3" height="8.3" fill="#F26C5A" stroke="#3b3b3b" stroke-width="1"/><text x="580.83" y="153.5" font-size="8.2" fill="#FFE0D8" fill-opacity="0.62" text-anchor="middle" font-family="Liberation Sans" textLength="3.6" lengthAdjust="spacingAndGlyphs">6</text><rect x="608.2" y="128.85" width="8.3" height="8.3" fill="#F26C5A" stroke="#3b3b3b" stroke-width="1"/><text x="612.35" y="135.9" font-size="8.2" fill="#FFE0D8" fill-opacity="0.62" text-anchor="middle" font-family="Liberation Sans" textLength="3.6" lengthAdjust="spacingAndGlyphs">7</text><rect x="572.07" y="137.45" width="8.3" height="8.3" fill="#F26C5A" stroke="#3b3b3b" stroke-width="1"/><text x="576.22" y="144.5" font-size="8.2" fill="#FFE0D8" fill-opacity="0.62" text-anchor="middle" font-family="Liberation Sans" textLength="3.6" lengthAdjust="spacingAndGlyphs">8</text><rect x="578.98" y="135.85" width="8.3" height="8.3" fill="#F26C5A" stroke="#3b3b3b" stroke-width="1"/><text x="583.13" y="142.9" font-size="8.2" fill="#FFE0D8" fill-opacity="0.62" text-anchor="middle" font-family="Liberation Sans" textLength="3.6" lengthAdjust="spacingAndGlyphs">9</text><rect x="586.81" y="136.35" width="8.3" height="8.3" fill="#F26C5A" stroke="#3b3b3b" stroke-width="1"/><text x="590.96" y="143.4" font-size="8.2" fill="#FFE0D8" fill-opacity="0.62" text-anchor="middle" font-family="Liberation Sans" textLength="6.8" lengthAdjust="spacingAndGlyphs">10</text><rect x="581.01" y="136.85" width="8.3" height="8.3" fill="#F26C5A" stroke="#3b3b3b" stroke-width="1"/><text x="585.16" y="143.9" font-size="8.2" fill="#FFE0D8" fill-opacity="0.62" text-anchor="middle" font-family="Liberation Sans" textLength="6.8" lengthAdjust="spacingAndGlyphs">11</text><rect x="580.27" y="136.25" width="8.3" height="8.3" fill="#F26C5A" stroke="#3b3b3b" stroke-width="1"/><text x="584.42" y="143.3" font-size="8.2" fill="#FFE0D8" fill-opacity="0.62" text-anchor="middle" font-family="Liberation Sans" textLength="6.8" lengthAdjust="spacingAndGlyphs">12</text><rect x="589.12" y="138.85" width="8.3" height="8.3" fill="#F26C5A" stroke="#3b3b3b" stroke-width="1"/><text x="593.27" y="145.9" font-size="8.2" fill="#FFE0D8" fill-opacity="0.62" text-anchor="middle" font-family="Liberation Sans" textLength="6.8" lengthAdjust="spacingAndGlyphs">13</text><rect x="644.7" y="107.65" width="8.3" height="8.3" fill="#F26C5A" stroke="#3b3b3b" stroke-width="1"/><text x="648.85" y="114.7" font-size="8.2" fill="#FFE0D8" fill-opacity="0.62" text-anchor="middle" font-family="Liberation Sans" textLength="6.8" lengthAdjust="spacingAndGlyphs">14</text><rect x="645.06" y="95.45" width="8.3" height="8.3" fill="#F26C5A" stroke="#3b3b3b" stroke-width="1"/><text x="649.21" y="102.5" font-size="8.2" fill="#FFE0D8" fill-opacity="0.62" text-anchor="middle" font-family="Liberation Sans" textLength="6.8" lengthAdjust="spacingAndGlyphs">15</text><rect x="530.87" y="150.85" width="8.3" height="8.3" fill="#F26C5A" stroke="#3b3b3b" stroke-width="1"/><text x="535.02" y="157.9" font-size="8.2" fill="#FFE0D8" fill-opacity="0.62" text-anchor="middle" font-family="Liberation Sans" textLength="6.8" lengthAdjust="spacingAndGlyphs">16</text><rect x="522.85" y="144.45" width="8.3" height="8.3" fill="#F26C5A" stroke="#3b3b3b" stroke-width="1"/><text x="527" y="151.5" font-size="8.2" fill="#FFE0D8" fill-opacity="0.62" text-anchor="middle" font-family="Liberation Sans" textLength="6.8" lengthAdjust="spacingAndGlyphs">17</text><rect x="534.83" y="142.85" width="8.3" height="8.3" fill="#F26C5A" stroke="#3b3b3b" stroke-width="1"/><text x="538.98" y="149.9" font-size="8.2" fill="#FFE0D8" fill-opacity="0.62" text-anchor="middle" font-family="Liberation Sans" textLength="6.8" lengthAdjust="spacingAndGlyphs">18</text><rect x="472.53" y="151.15" width="8.3" height="8.3" fill="#F26C5A" stroke="#3b3b3b" stroke-width="1"/><text x="476.68" y="158.2" font-size="8.2" fill="#FFE0D8" fill-opacity="0.62" text-anchor="middle" font-family="Liberation Sans" textLength="6.8" lengthAdjust="spacingAndGlyphs">19</text><rect x="443.22" y="158.85" width="8.3" height="8.3" fill="#F26C5A" stroke="#3b3b3b" stroke-width="1"/><text x="447.37" y="165.9" font-size="8.2" fill="#FFE0D8" fill-opacity="0.62" text-anchor="middle" font-family="Liberation Sans" textLength="6.8" lengthAdjust="spacingAndGlyphs">20</text><rect x="619.35" y="158.45" width="8.3" height="8.3" fill="#F26C5A" stroke="#3b3b3b" stroke-width="1"/><text x="623.5" y="165.5" font-size="8.2" fill="#FFE0D8" fill-opacity="0.62" text-anchor="middle" font-family="Liberation Sans" textLength="6.8" lengthAdjust="spacingAndGlyphs">21</text><rect x="600.09" y="163.65" width="8.3" height="8.3" fill="#F26C5A" stroke="#3b3b3b" stroke-width="1"/><text x="604.24" y="170.7" font-size="8.2" fill="#FFE0D8" fill-opacity="0.62" text-anchor="middle" font-family="Liberation Sans" textLength="6.8" lengthAdjust="spacingAndGlyphs">22</text><rect x="636.4" y="163.75" width="8.3" height="8.3" fill="#F26C5A" stroke="#3b3b3b" stroke-width="1"/><text x="640.55" y="170.8" font-size="8.2" fill="#FFE0D8" fill-opacity="0.62" text-anchor="middle" font-family="Liberation Sans" textLength="6.8" lengthAdjust="spacingAndGlyphs">23</text><rect x="644.23" y="163.75" width="8.3" height="8.3" fill="#F26C5A" stroke="#3b3b3b" stroke-width="1"/><text x="648.38" y="170.8" font-size="8.2" fill="#FFE0D8" fill-opacity="0.62" text-anchor="middle" font-family="Liberation Sans" textLength="6.8" lengthAdjust="spacingAndGlyphs">24</text><rect x="480.4" y="157.54" width="8.6" height="7.91" fill="#FFE000" fill-opacity="0.28"/><path d="M480.4 157.54L489 165.46M480.4 165.46L489 157.54" stroke="#FFD600" stroke-opacity="0.8" stroke-width="1.2" fill="none"/><rect x="476.16" y="157.04" width="8.6" height="7.91" fill="#FFE000" fill-opacity="0.28"/><path d="M476.16 157.04L484.76 164.96M476.16 164.96L484.76 157.04" stroke="#FFD600" stroke-opacity="0.8" stroke-width="1.2" fill="none"/><rect x="474.68" y="156.54" width="8.6" height="7.91" fill="#FFE000" fill-opacity="0.28"/><path d="M474.68 156.54L483.28 164.46M474.68 164.46L483.28 156.54" stroke="#FFD600" stroke-opacity="0.8" stroke-width="1.2" fill="none"/><rect x="567.68" y="151.04" width="8.6" height="7.91" fill="#FFE000" fill-opacity="0.28"/><path d="M567.68 151.04L576.28 158.96M567.68 158.96L576.28 151.04" stroke="#FFD600" stroke-opacity="0.8" stroke-width="1.2" fill="none"/><rect x="552.01" y="160.74" width="8.6" height="7.91" fill="#FFE000" fill-opacity="0.28"/><path d="M552.01 160.74L560.61 168.66M552.01 168.66L560.61 160.74" stroke="#FFD600" stroke-opacity="0.8" stroke-width="1.2" fill="none"/><rect x="576.53" y="129.34" width="8.6" height="7.91" fill="#FFE000" fill-opacity="0.28"/><path d="M576.53 129.34L585.13 137.26M576.53 137.26L585.13 129.34" stroke="#FFD600" stroke-opacity="0.8" stroke-width="1.2" fill="none"/><rect x="608.05" y="129.04" width="8.6" height="7.91" fill="#FFE000" fill-opacity="0.28"/><path d="M608.05 129.04L616.65 136.96M608.05 136.96L616.65 129.04" stroke="#FFD600" stroke-opacity="0.8" stroke-width="1.2" fill="none"/><rect x="571.92" y="124.34" width="8.6" height="7.91" fill="#FFE000" fill-opacity="0.28"/><path d="M571.92 124.34L580.52 132.26M571.92 132.26L580.52 124.34" stroke="#FFD600" stroke-opacity="0.8" stroke-width="1.2" fill="none"/><rect x="578.83" y="114.04" width="8.6" height="7.91" fill="#FFE000" fill-opacity="0.28"/><path d="M578.83 114.04L587.43 121.96M578.83 121.96L587.43 114.04" stroke="#FFD600" stroke-opacity="0.8" stroke-width="1.2" fill="none"/><rect x="586.66" y="126.74" width="8.6" height="7.91" fill="#FFE000" fill-opacity="0.28"/><path d="M586.66 126.74L595.26 134.66M586.66 134.66L595.26 126.74" stroke="#FFD600" stroke-opacity="0.8" stroke-width="1.2" fill="none"/><rect x="580.86" y="126.04" width="8.6" height="7.91" fill="#FFE000" fill-opacity="0.28"/><path d="M580.86 126.04L589.46 133.96M580.86 133.96L589.46 126.04" stroke="#FFD600" stroke-opacity="0.8" stroke-width="1.2" fill="none"/><rect x="580.12" y="129.04" width="8.6" height="7.91" fill="#FFE000" fill-opacity="0.28"/><path d="M580.12 129.04L588.72 136.96M580.12 136.96L588.72 129.04" stroke="#FFD600" stroke-opacity="0.8" stroke-width="1.2" fill="none"/><rect x="588.97" y="154.44" width="8.6" height="7.91" fill="#FFE000" fill-opacity="0.28"/><path d="M588.97 154.44L597.57 162.36M588.97 162.36L597.57 154.44" stroke="#FFD600" stroke-opacity="0.8" stroke-width="1.2" fill="none"/><rect x="644.55" y="89.74" width="8.6" height="7.91" fill="#FFE000" fill-opacity="0.28"/><path d="M644.55 89.74L653.15 97.66M644.55 97.66L653.15 89.74" stroke="#FFD600" stroke-opacity="0.8" stroke-width="1.2" fill="none"/><rect x="644.91" y="104.04" width="8.6" height="7.91" fill="#FFE000" fill-opacity="0.28"/><path d="M644.91 104.04L653.51 111.96M644.91 111.96L653.51 104.04" stroke="#FFD600" stroke-opacity="0.8" stroke-width="1.2" fill="none"/><rect x="530.72" y="158.04" width="8.6" height="7.91" fill="#FFE000" fill-opacity="0.28"/><path d="M530.72 158.04L539.32 165.96M530.72 165.96L539.32 158.04" stroke="#FFD600" stroke-opacity="0.8" stroke-width="1.2" fill="none"/><rect x="522.7" y="155.04" width="8.6" height="7.91" fill="#FFE000" fill-opacity="0.28"/><path d="M522.7 155.04L531.3 162.96M522.7 162.96L531.3 155.04" stroke="#FFD600" stroke-opacity="0.8" stroke-width="1.2" fill="none"/><rect x="534.68" y="158.04" width="8.6" height="7.91" fill="#FFE000" fill-opacity="0.28"/><path d="M534.68 158.04L543.28 165.96M534.68 165.96L543.28 158.04" stroke="#FFD600" stroke-opacity="0.8" stroke-width="1.2" fill="none"/><rect x="472.38" y="157.04" width="8.6" height="7.91" fill="#FFE000" fill-opacity="0.28"/><path d="M472.38 157.04L480.98 164.96M472.38 164.96L480.98 157.04" stroke="#FFD600" stroke-opacity="0.8" stroke-width="1.2" fill="none"/><rect x="443.07" y="156.04" width="8.6" height="7.91" fill="#FFE000" fill-opacity="0.28"/><path d="M443.07 156.04L451.67 163.96M443.07 163.96L451.67 156.04" stroke="#FFD600" stroke-opacity="0.8" stroke-width="1.2" fill="none"/><rect x="619.2" y="85.74" width="8.6" height="7.91" fill="#FFE000" fill-opacity="0.28"/><path d="M619.2 85.74L627.8 93.66M619.2 93.66L627.8 85.74" stroke="#FFD600" stroke-opacity="0.8" stroke-width="1.2" fill="none"/><rect x="599.94" y="80.54" width="8.6" height="7.91" fill="#FFE000" fill-opacity="0.28"/><path d="M599.94 80.54L608.54 88.46M599.94 88.46L608.54 80.54" stroke="#FFD600" stroke-opacity="0.8" stroke-width="1.2" fill="none"/><rect x="636.25" y="82.04" width="8.6" height="7.91" fill="#FFE000" fill-opacity="0.28"/><path d="M636.25 82.04L644.85 89.96M636.25 89.96L644.85 82.04" stroke="#FFD600" stroke-opacity="0.8" stroke-width="1.2" fill="none"/><rect x="644.08" y="158.64" width="8.6" height="7.91" fill="#FFE000" fill-opacity="0.28"/><path d="M644.08 158.64L652.68 166.56M644.08 166.56L652.68 158.64" stroke="#FFD600" stroke-opacity="0.8" stroke-width="1.2" fill="none"/><rect x="406" y="32.5" width="276.5" height="157.8" fill="none" stroke="#454545" stroke-width="1.2"/><rect x="417" y="46" width="101.4" height="31.2" fill="#fff" stroke="#404040" stroke-width="1"/><rect x="443.3" y="58.9" width="5.4" height="5.4" fill="#F26C5A" stroke="#3b3b3b" stroke-width="0.9"/><text x="452.5" y="65.6" font-size="12.5" font-family="Liberation Serif" font-style="italic" fill="#222" text-anchor="start">F</text><rect x="481.3" y="59.48" width="4.6" height="4.23" fill="#FFE000" fill-opacity="0.28"/><path d="M481.3 59.48L485.9 63.72M481.3 63.72L485.9 59.48" stroke="#FFD600" stroke-opacity="0.8" stroke-width="1.4" fill="none"/><text x="491.5" y="65.6" font-size="12.5" font-family="Liberation Serif" font-style="italic" fill="#222" text-anchor="start">F</text><text x="497.2" y="68" font-size="10" font-family="Liberation Serif" font-style="italic" fill="#222" text-anchor="start" textLength="14" lengthAdjust="spacingAndGlyphs">ave</text><line x1="38.5" y1="383.19" x2="343" y2="383.19" stroke="#DEDEDE" stroke-width="1"/><line x1="38.5" y1="362.07" x2="343" y2="362.07" stroke="#DEDEDE" stroke-width="1"/><line x1="38.5" y1="340.96" x2="343" y2="340.96" stroke="#DEDEDE" stroke-width="1"/><line x1="38.5" y1="319.84" x2="343" y2="319.84" stroke="#DEDEDE" stroke-width="1"/><line x1="38.5" y1="298.73" x2="343" y2="298.73" stroke="#DEDEDE" stroke-width="1"/><line x1="38.5" y1="277.61" x2="343" y2="277.61" stroke="#DEDEDE" stroke-width="1"/><line x1="140" y1="256.5" x2="140" y2="404.3" stroke="#DEDEDE" stroke-width="1"/><line x1="241.5" y1="256.5" x2="241.5" y2="404.3" stroke="#DEDEDE" stroke-width="1"/><text x="29.5" y="406.9" font-size="8.6" font-family="Liberation Sans" fill="#1a1a1a" text-anchor="end" textLength="14.66" lengthAdjust="spacingAndGlyphs" stroke="#1a1a1a" stroke-width="0.12">-12</text><text x="29.5" y="385.79" font-size="8.6" font-family="Liberation Sans" fill="#1a1a1a" text-anchor="end" textLength="14.66" lengthAdjust="spacingAndGlyphs" stroke="#1a1a1a" stroke-width="0.12">-10</text><text x="29.5" y="364.67" font-size="8.6" font-family="Liberation Sans" fill="#1a1a1a" text-anchor="end" textLength="9.02" lengthAdjust="spacingAndGlyphs" stroke="#1a1a1a" stroke-width="0.12">-8</text><text x="29.5" y="343.56" font-size="8.6" font-family="Liberation Sans" fill="#1a1a1a" text-anchor="end" textLength="9.02" lengthAdjust="spacingAndGlyphs" stroke="#1a1a1a" stroke-width="0.12">-6</text><text x="29.5" y="322.44" font-size="8.6" font-family="Liberation Sans" fill="#1a1a1a" text-anchor="end" textLength="9.02" lengthAdjust="spacingAndGlyphs" stroke="#1a1a1a" stroke-width="0.12">-4</text><text x="29.5" y="301.33" font-size="8.6" font-family="Liberation Sans" fill="#1a1a1a" text-anchor="end" textLength="9.02" lengthAdjust="spacingAndGlyphs" stroke="#1a1a1a" stroke-width="0.12">-2</text><text x="29.5" y="280.21" font-size="8.6" font-family="Liberation Sans" fill="#1a1a1a" text-anchor="end" textLength="5.64" lengthAdjust="spacingAndGlyphs" stroke="#1a1a1a" stroke-width="0.12">0</text><text x="29.5" y="259.1" font-size="8.6" font-family="Liberation Sans" fill="#1a1a1a" text-anchor="end" textLength="5.64" lengthAdjust="spacingAndGlyphs" stroke="#1a1a1a" stroke-width="0.12">2</text><text x="38.5" y="419" font-size="8.6" font-family="Liberation Sans" fill="#1a1a1a" text-anchor="middle" textLength="25.82" lengthAdjust="spacingAndGlyphs" stroke="#1a1a1a" stroke-width="0.12">0.001</text><text x="140" y="419" font-size="8.6" font-family="Liberation Sans" fill="#1a1a1a" text-anchor="middle" textLength="20.08" lengthAdjust="spacingAndGlyphs" stroke="#1a1a1a" stroke-width="0.12">0.01</text><text x="241.5" y="419" font-size="8.6" font-family="Liberation Sans" fill="#1a1a1a" text-anchor="middle" textLength="14.34" lengthAdjust="spacingAndGlyphs" stroke="#1a1a1a" stroke-width="0.12">0.1</text><text x="343" y="419" font-size="8.6" font-family="Liberation Sans" fill="#1a1a1a" text-anchor="middle" textLength="5.74" lengthAdjust="spacingAndGlyphs" stroke="#1a1a1a" stroke-width="0.12">1</text><line x1="82.96" y1="343" x2="82.96" y2="381" stroke="#C5962A" stroke-width="1.3"/><line x1="80.76" y1="343" x2="85.16" y2="343" stroke="#C5962A" stroke-width="1.6"/><line x1="80.76" y1="381" x2="85.16" y2="381" stroke="#C5962A" stroke-width="1.6"/><line x1="115.23" y1="347" x2="115.23" y2="380" stroke="#C5962A" stroke-width="1.3"/><line x1="113.03" y1="347" x2="117.43" y2="347" stroke="#C5962A" stroke-width="1.6"/><line x1="113.03" y1="380" x2="117.43" y2="380" stroke="#C5962A" stroke-width="1.6"/><line x1="117.77" y1="355" x2="117.77" y2="374.4" stroke="#C5962A" stroke-width="1.3"/><line x1="115.57" y1="355" x2="119.97" y2="355" stroke="#C5962A" stroke-width="1.6"/><line x1="115.57" y1="374.4" x2="119.97" y2="374.4" stroke="#C5962A" stroke-width="1.6"/><line x1="119.4" y1="355" x2="119.4" y2="374.4" stroke="#C5962A" stroke-width="1.3"/><line x1="117.2" y1="355" x2="121.6" y2="355" stroke="#C5962A" stroke-width="1.6"/><line x1="117.2" y1="374.4" x2="121.6" y2="374.4" stroke="#C5962A" stroke-width="1.6"/><line x1="124.06" y1="357" x2="124.06" y2="374.4" stroke="#C5962A" stroke-width="1.3"/><line x1="121.86" y1="357" x2="126.26" y2="357" stroke="#C5962A" stroke-width="1.6"/><line x1="121.86" y1="374.4" x2="126.26" y2="374.4" stroke="#C5962A" stroke-width="1.6"/><line x1="170.65" y1="355" x2="170.65" y2="377" stroke="#C5962A" stroke-width="1.3"/><line x1="168.45" y1="355" x2="172.85" y2="355" stroke="#C5962A" stroke-width="1.6"/><line x1="168.45" y1="377" x2="172.85" y2="377" stroke="#C5962A" stroke-width="1.6"/><line x1="179.48" y1="355" x2="179.48" y2="377" stroke="#C5962A" stroke-width="1.3"/><line x1="177.28" y1="355" x2="181.68" y2="355" stroke="#C5962A" stroke-width="1.6"/><line x1="177.28" y1="377" x2="181.68" y2="377" stroke="#C5962A" stroke-width="1.6"/><line x1="183.85" y1="354" x2="183.85" y2="372.4" stroke="#C5962A" stroke-width="1.3"/><line x1="181.65" y1="354" x2="186.05" y2="354" stroke="#C5962A" stroke-width="1.6"/><line x1="181.65" y1="372.4" x2="186.05" y2="372.4" stroke="#C5962A" stroke-width="1.6"/><line x1="202.93" y1="335" x2="202.93" y2="351.3" stroke="#C5962A" stroke-width="1.3"/><line x1="200.73" y1="335" x2="205.13" y2="335" stroke="#C5962A" stroke-width="1.6"/><line x1="200.73" y1="351.3" x2="205.13" y2="351.3" stroke="#C5962A" stroke-width="1.6"/><line x1="220.19" y1="332" x2="220.19" y2="366.4" stroke="#C5962A" stroke-width="1.3"/><line x1="217.99" y1="332" x2="222.39" y2="332" stroke="#C5962A" stroke-width="1.6"/><line x1="217.99" y1="366.4" x2="222.39" y2="366.4" stroke="#C5962A" stroke-width="1.6"/><line x1="229.93" y1="331" x2="229.93" y2="363" stroke="#C5962A" stroke-width="1.3"/><line x1="227.73" y1="331" x2="232.13" y2="331" stroke="#C5962A" stroke-width="1.6"/><line x1="227.73" y1="363" x2="232.13" y2="363" stroke="#C5962A" stroke-width="1.6"/><line x1="232.47" y1="296" x2="232.47" y2="318" stroke="#C5962A" stroke-width="1.3"/><line x1="230.27" y1="296" x2="234.67" y2="296" stroke="#C5962A" stroke-width="1.6"/><line x1="230.27" y1="318" x2="234.67" y2="318" stroke="#C5962A" stroke-width="1.6"/><line x1="233.89" y1="325" x2="233.89" y2="352" stroke="#C5962A" stroke-width="1.3"/><line x1="231.69" y1="325" x2="236.09" y2="325" stroke="#C5962A" stroke-width="1.6"/><line x1="231.69" y1="352" x2="236.09" y2="352" stroke="#C5962A" stroke-width="1.6"/><line x1="234.7" y1="325" x2="234.7" y2="352" stroke="#C5962A" stroke-width="1.3"/><line x1="232.5" y1="325" x2="236.9" y2="325" stroke="#C5962A" stroke-width="1.6"/><line x1="232.5" y1="352" x2="236.9" y2="352" stroke="#C5962A" stroke-width="1.6"/><line x1="241.09" y1="328" x2="241.09" y2="351.3" stroke="#C5962A" stroke-width="1.3"/><line x1="238.89" y1="328" x2="243.29" y2="328" stroke="#C5962A" stroke-width="1.6"/><line x1="238.89" y1="351.3" x2="243.29" y2="351.3" stroke="#C5962A" stroke-width="1.6"/><line x1="243.63" y1="328" x2="243.63" y2="354.6" stroke="#C5962A" stroke-width="1.3"/><line x1="241.43" y1="328" x2="245.83" y2="328" stroke="#C5962A" stroke-width="1.6"/><line x1="241.43" y1="354.6" x2="245.83" y2="354.6" stroke="#C5962A" stroke-width="1.6"/><line x1="255.71" y1="292.7" x2="255.71" y2="311" stroke="#C5962A" stroke-width="1.3"/><line x1="253.51" y1="292.7" x2="257.91" y2="292.7" stroke="#C5962A" stroke-width="1.6"/><line x1="253.51" y1="311" x2="257.91" y2="311" stroke="#C5962A" stroke-width="1.6"/><line x1="276.92" y1="286.5" x2="276.92" y2="307" stroke="#C5962A" stroke-width="1.3"/><line x1="274.72" y1="286.5" x2="279.12" y2="286.5" stroke="#C5962A" stroke-width="1.6"/><line x1="274.72" y1="307" x2="279.12" y2="307" stroke="#C5962A" stroke-width="1.6"/><line x1="295.7" y1="288.4" x2="295.7" y2="306.1" stroke="#C5962A" stroke-width="1.3"/><line x1="293.5" y1="288.4" x2="297.9" y2="288.4" stroke="#C5962A" stroke-width="1.6"/><line x1="293.5" y1="306.1" x2="297.9" y2="306.1" stroke="#C5962A" stroke-width="1.6"/><line x1="304.84" y1="277" x2="304.84" y2="290" stroke="#C5962A" stroke-width="1.3"/><line x1="302.64" y1="277" x2="307.04" y2="277" stroke="#C5962A" stroke-width="1.6"/><line x1="302.64" y1="290" x2="307.04" y2="290" stroke="#C5962A" stroke-width="1.6"/><line x1="304.33" y1="290" x2="304.33" y2="309.4" stroke="#C5962A" stroke-width="1.3"/><line x1="302.13" y1="290" x2="306.53" y2="290" stroke="#C5962A" stroke-width="1.6"/><line x1="302.13" y1="309.4" x2="306.53" y2="309.4" stroke="#C5962A" stroke-width="1.6"/><rect x="119.91" y="352.85" width="8.3" height="8.3" fill="#F26C5A" stroke="#3b3b3b" stroke-width="1"/><text x="124.06" y="359.9" font-size="8.2" fill="#FFE0D8" fill-opacity="0.62" text-anchor="middle" font-family="Liberation Sans" textLength="3.6" lengthAdjust="spacingAndGlyphs">1</text><rect x="115.25" y="349.85" width="8.3" height="8.3" fill="#F26C5A" stroke="#3b3b3b" stroke-width="1"/><text x="119.4" y="356.9" font-size="8.2" fill="#FFE0D8" fill-opacity="0.62" text-anchor="middle" font-family="Liberation Sans" textLength="3.6" lengthAdjust="spacingAndGlyphs">2</text><rect x="113.62" y="349.85" width="8.3" height="8.3" fill="#F26C5A" stroke="#3b3b3b" stroke-width="1"/><text x="117.77" y="356.9" font-size="8.2" fill="#FFE0D8" fill-opacity="0.62" text-anchor="middle" font-family="Liberation Sans" textLength="3.6" lengthAdjust="spacingAndGlyphs">3</text><rect x="216.04" y="327.85" width="8.3" height="8.3" fill="#F26C5A" stroke="#3b3b3b" stroke-width="1"/><text x="220.19" y="334.9" font-size="8.2" fill="#FFE0D8" fill-opacity="0.62" text-anchor="middle" font-family="Liberation Sans" textLength="3.6" lengthAdjust="spacingAndGlyphs">4</text><rect x="198.78" y="330.35" width="8.3" height="8.3" fill="#F26C5A" stroke="#3b3b3b" stroke-width="1"/><text x="202.93" y="337.4" font-size="8.2" fill="#FFE0D8" fill-opacity="0.62" text-anchor="middle" font-family="Liberation Sans" textLength="3.6" lengthAdjust="spacingAndGlyphs">5</text><rect x="225.78" y="327.05" width="8.3" height="8.3" fill="#F26C5A" stroke="#3b3b3b" stroke-width="1"/><text x="229.93" y="334.1" font-size="8.2" fill="#FFE0D8" fill-opacity="0.62" text-anchor="middle" font-family="Liberation Sans" textLength="3.6" lengthAdjust="spacingAndGlyphs">6</text><rect x="260.49" y="311.85" width="8.3" height="8.3" fill="#F26C5A" stroke="#3b3b3b" stroke-width="1"/><text x="264.64" y="318.9" font-size="8.2" fill="#FFE0D8" fill-opacity="0.62" text-anchor="middle" font-family="Liberation Sans" textLength="3.6" lengthAdjust="spacingAndGlyphs">7</text><rect x="220.7" y="314.65" width="8.3" height="8.3" fill="#F26C5A" stroke="#3b3b3b" stroke-width="1"/><text x="224.85" y="321.7" font-size="8.2" fill="#FFE0D8" fill-opacity="0.62" text-anchor="middle" font-family="Liberation Sans" textLength="3.6" lengthAdjust="spacingAndGlyphs">8</text><rect x="228.32" y="306.05" width="8.3" height="8.3" fill="#F26C5A" stroke="#3b3b3b" stroke-width="1"/><text x="232.47" y="313.1" font-size="8.2" fill="#FFE0D8" fill-opacity="0.62" text-anchor="middle" font-family="Liberation Sans" textLength="3.6" lengthAdjust="spacingAndGlyphs">9</text><rect x="236.94" y="323.15" width="8.3" height="8.3" fill="#F26C5A" stroke="#3b3b3b" stroke-width="1"/><text x="241.09" y="330.2" font-size="8.2" fill="#FFE0D8" fill-opacity="0.62" text-anchor="middle" font-family="Liberation Sans" textLength="6.8" lengthAdjust="spacingAndGlyphs">10</text><rect x="230.55" y="313.35" width="8.3" height="8.3" fill="#F26C5A" stroke="#3b3b3b" stroke-width="1"/><text x="234.7" y="320.4" font-size="8.2" fill="#FFE0D8" fill-opacity="0.62" text-anchor="middle" font-family="Liberation Sans" textLength="6.8" lengthAdjust="spacingAndGlyphs">11</text><rect x="229.74" y="320.55" width="8.3" height="8.3" fill="#F26C5A" stroke="#3b3b3b" stroke-width="1"/><text x="233.89" y="327.6" font-size="8.2" fill="#FFE0D8" fill-opacity="0.62" text-anchor="middle" font-family="Liberation Sans" textLength="6.8" lengthAdjust="spacingAndGlyphs">12</text><rect x="239.48" y="323.85" width="8.3" height="8.3" fill="#F26C5A" stroke="#3b3b3b" stroke-width="1"/><text x="243.63" y="330.9" font-size="8.2" fill="#FFE0D8" fill-opacity="0.62" text-anchor="middle" font-family="Liberation Sans" textLength="6.8" lengthAdjust="spacingAndGlyphs">13</text><rect x="300.69" y="283.05" width="8.3" height="8.3" fill="#F26C5A" stroke="#3b3b3b" stroke-width="1"/><text x="304.84" y="290.1" font-size="8.2" fill="#FFE0D8" fill-opacity="0.62" text-anchor="middle" font-family="Liberation Sans" textLength="6.8" lengthAdjust="spacingAndGlyphs">14</text><rect x="301.09" y="295.15" width="8.3" height="8.3" fill="#F26C5A" stroke="#3b3b3b" stroke-width="1"/><text x="305.24" y="302.2" font-size="8.2" fill="#FFE0D8" fill-opacity="0.62" text-anchor="middle" font-family="Liberation Sans" textLength="6.8" lengthAdjust="spacingAndGlyphs">15</text><rect x="175.33" y="332.85" width="8.3" height="8.3" fill="#F26C5A" stroke="#3b3b3b" stroke-width="1"/><text x="179.48" y="339.9" font-size="8.2" fill="#FFE0D8" fill-opacity="0.62" text-anchor="middle" font-family="Liberation Sans" textLength="6.8" lengthAdjust="spacingAndGlyphs">16</text><rect x="166.5" y="339.85" width="8.3" height="8.3" fill="#F26C5A" stroke="#3b3b3b" stroke-width="1"/><text x="170.65" y="346.9" font-size="8.2" fill="#FFE0D8" fill-opacity="0.62" text-anchor="middle" font-family="Liberation Sans" textLength="6.8" lengthAdjust="spacingAndGlyphs">17</text><rect x="179.7" y="336.25" width="8.3" height="8.3" fill="#F26C5A" stroke="#3b3b3b" stroke-width="1"/><text x="183.85" y="343.3" font-size="8.2" fill="#FFE0D8" fill-opacity="0.62" text-anchor="middle" font-family="Liberation Sans" textLength="6.8" lengthAdjust="spacingAndGlyphs">18</text><rect x="111.08" y="339.85" width="8.3" height="8.3" fill="#F26C5A" stroke="#3b3b3b" stroke-width="1"/><text x="115.23" y="346.9" font-size="8.2" fill="#FFE0D8" fill-opacity="0.62" text-anchor="middle" font-family="Liberation Sans" textLength="6.8" lengthAdjust="spacingAndGlyphs">19</text><rect x="78.81" y="338.85" width="8.3" height="8.3" fill="#F26C5A" stroke="#3b3b3b" stroke-width="1"/><text x="82.96" y="345.9" font-size="8.2" fill="#FFE0D8" fill-opacity="0.62" text-anchor="middle" font-family="Liberation Sans" textLength="6.8" lengthAdjust="spacingAndGlyphs">20</text><rect x="272.77" y="303.25" width="8.3" height="8.3" fill="#F26C5A" stroke="#3b3b3b" stroke-width="1"/><text x="276.92" y="310.3" font-size="8.2" fill="#FFE0D8" fill-opacity="0.62" text-anchor="middle" font-family="Liberation Sans" textLength="6.8" lengthAdjust="spacingAndGlyphs">21</text><rect x="251.56" y="307.15" width="8.3" height="8.3" fill="#F26C5A" stroke="#3b3b3b" stroke-width="1"/><text x="255.71" y="314.2" font-size="8.2" fill="#FFE0D8" fill-opacity="0.62" text-anchor="middle" font-family="Liberation Sans" textLength="6.8" lengthAdjust="spacingAndGlyphs">22</text><rect x="291.55" y="294.85" width="8.3" height="8.3" fill="#F26C5A" stroke="#3b3b3b" stroke-width="1"/><text x="295.7" y="301.9" font-size="8.2" fill="#FFE0D8" fill-opacity="0.62" text-anchor="middle" font-family="Liberation Sans" textLength="6.8" lengthAdjust="spacingAndGlyphs">23</text><rect x="300.18" y="295.15" width="8.3" height="8.3" fill="#F26C5A" stroke="#3b3b3b" stroke-width="1"/><text x="304.33" y="302.2" font-size="8.2" fill="#FFE0D8" fill-opacity="0.62" text-anchor="middle" font-family="Liberation Sans" textLength="6.8" lengthAdjust="spacingAndGlyphs">24</text><rect x="119.76" y="361.04" width="8.6" height="7.91" fill="#FFE000" fill-opacity="0.28"/><path d="M119.76 361.04L128.36 368.96M119.76 368.96L128.36 361.04" stroke="#FFD600" stroke-opacity="0.8" stroke-width="1.2" fill="none"/><rect x="115.1" y="361.04" width="8.6" height="7.91" fill="#FFE000" fill-opacity="0.28"/><path d="M115.1 361.04L123.7 368.96M115.1 368.96L123.7 361.04" stroke="#FFD600" stroke-opacity="0.8" stroke-width="1.2" fill="none"/><rect x="113.47" y="361.04" width="8.6" height="7.91" fill="#FFE000" fill-opacity="0.28"/><path d="M113.47 361.04L122.07 368.96M113.47 368.96L122.07 361.04" stroke="#FFD600" stroke-opacity="0.8" stroke-width="1.2" fill="none"/><rect x="215.89" y="347.34" width="8.6" height="7.91" fill="#FFE000" fill-opacity="0.28"/><path d="M215.89 347.34L224.49 355.26M215.89 355.26L224.49 347.34" stroke="#FFD600" stroke-opacity="0.8" stroke-width="1.2" fill="none"/><rect x="198.63" y="339.44" width="8.6" height="7.91" fill="#FFE000" fill-opacity="0.28"/><path d="M198.63 339.44L207.23 347.36M198.63 347.36L207.23 339.44" stroke="#FFD600" stroke-opacity="0.8" stroke-width="1.2" fill="none"/><rect x="225.63" y="346.64" width="8.6" height="7.91" fill="#FFE000" fill-opacity="0.28"/><path d="M225.63 346.64L234.23 354.56M225.63 354.56L234.23 346.64" stroke="#FFD600" stroke-opacity="0.8" stroke-width="1.2" fill="none"/><rect x="260.34" y="312.04" width="8.6" height="7.91" fill="#FFE000" fill-opacity="0.28"/><path d="M260.34 312.04L268.94 319.96M260.34 319.96L268.94 312.04" stroke="#FFD600" stroke-opacity="0.8" stroke-width="1.2" fill="none"/><rect x="220.55" y="314.84" width="8.6" height="7.91" fill="#FFE000" fill-opacity="0.28"/><path d="M220.55 314.84L229.15 322.76M220.55 322.76L229.15 314.84" stroke="#FFD600" stroke-opacity="0.8" stroke-width="1.2" fill="none"/><rect x="228.17" y="306.04" width="8.6" height="7.91" fill="#FFE000" fill-opacity="0.28"/><path d="M228.17 306.04L236.77 313.96M228.17 313.96L236.77 306.04" stroke="#FFD600" stroke-opacity="0.8" stroke-width="1.2" fill="none"/><rect x="236.79" y="339.44" width="8.6" height="7.91" fill="#FFE000" fill-opacity="0.28"/><path d="M236.79 339.44L245.39 347.36M236.79 347.36L245.39 339.44" stroke="#FFD600" stroke-opacity="0.8" stroke-width="1.2" fill="none"/><rect x="230.4" y="335.54" width="8.6" height="7.91" fill="#FFE000" fill-opacity="0.28"/><path d="M230.4 335.54L239 343.46M230.4 343.46L239 335.54" stroke="#FFD600" stroke-opacity="0.8" stroke-width="1.2" fill="none"/><rect x="229.59" y="335.54" width="8.6" height="7.91" fill="#FFE000" fill-opacity="0.28"/><path d="M229.59 335.54L238.19 343.46M229.59 343.46L238.19 335.54" stroke="#FFD600" stroke-opacity="0.8" stroke-width="1.2" fill="none"/><rect x="239.33" y="342.74" width="8.6" height="7.91" fill="#FFE000" fill-opacity="0.28"/><path d="M239.33 342.74L247.93 350.66M239.33 350.66L247.93 342.74" stroke="#FFD600" stroke-opacity="0.8" stroke-width="1.2" fill="none"/><rect x="300.54" y="276.34" width="8.6" height="7.91" fill="#FFE000" fill-opacity="0.28"/><path d="M300.54 276.34L309.14 284.26M300.54 284.26L309.14 276.34" stroke="#FFD600" stroke-opacity="0.8" stroke-width="1.2" fill="none"/><rect x="300.94" y="283.24" width="8.6" height="7.91" fill="#FFE000" fill-opacity="0.28"/><path d="M300.94 283.24L309.54 291.16M300.94 291.16L309.54 283.24" stroke="#FFD600" stroke-opacity="0.8" stroke-width="1.2" fill="none"/><rect x="175.18" y="362.04" width="8.6" height="7.91" fill="#FFE000" fill-opacity="0.28"/><path d="M175.18 362.04L183.78 369.96M175.18 369.96L183.78 362.04" stroke="#FFD600" stroke-opacity="0.8" stroke-width="1.2" fill="none"/><rect x="166.35" y="362.04" width="8.6" height="7.91" fill="#FFE000" fill-opacity="0.28"/><path d="M166.35 362.04L174.95 369.96M166.35 369.96L174.95 362.04" stroke="#FFD600" stroke-opacity="0.8" stroke-width="1.2" fill="none"/><rect x="179.55" y="359.04" width="8.6" height="7.91" fill="#FFE000" fill-opacity="0.28"/><path d="M179.55 359.04L188.15 366.96M179.55 366.96L188.15 359.04" stroke="#FFD600" stroke-opacity="0.8" stroke-width="1.2" fill="none"/><rect x="110.93" y="357.04" width="8.6" height="7.91" fill="#FFE000" fill-opacity="0.28"/><path d="M110.93 357.04L119.53 364.96M110.93 364.96L119.53 357.04" stroke="#FFD600" stroke-opacity="0.8" stroke-width="1.2" fill="none"/><rect x="78.66" y="357.04" width="8.6" height="7.91" fill="#FFE000" fill-opacity="0.28"/><path d="M78.66 357.04L87.26 364.96M78.66 364.96L87.26 357.04" stroke="#FFD600" stroke-opacity="0.8" stroke-width="1.2" fill="none"/><rect x="272.62" y="291.54" width="8.6" height="7.91" fill="#FFE000" fill-opacity="0.28"/><path d="M272.62 291.54L281.22 299.46M272.62 299.46L281.22 291.54" stroke="#FFD600" stroke-opacity="0.8" stroke-width="1.2" fill="none"/><rect x="251.41" y="297.04" width="8.6" height="7.91" fill="#FFE000" fill-opacity="0.28"/><path d="M251.41 297.04L260.01 304.96M251.41 304.96L260.01 297.04" stroke="#FFD600" stroke-opacity="0.8" stroke-width="1.2" fill="none"/><rect x="291.4" y="295.04" width="8.6" height="7.91" fill="#FFE000" fill-opacity="0.28"/><path d="M291.4 295.04L300 302.96M291.4 302.96L300 295.04" stroke="#FFD600" stroke-opacity="0.8" stroke-width="1.2" fill="none"/><rect x="300.03" y="295.34" width="8.6" height="7.91" fill="#FFE000" fill-opacity="0.28"/><path d="M300.03 295.34L308.63 303.26M300.03 303.26L308.63 295.34" stroke="#FFD600" stroke-opacity="0.8" stroke-width="1.2" fill="none"/><path d="M82.96 340.61 L85.73 340.59 L88.5 340.57 L91.27 340.54 L94.05 340.51 L96.82 340.49 L99.59 340.45 L102.36 340.42 L105.14 340.39 L107.91 340.35 L110.68 340.31 L113.45 340.27 L116.23 340.22 L119 340.18 L121.77 340.13 L124.55 340.07 L127.32 340.01 L130.09 339.95 L132.86 339.89 L135.64 339.82 L138.41 339.75 L141.18 339.67 L143.95 339.58 L146.73 339.49 L149.5 339.4 L152.27 339.3 L155.04 339.19 L157.82 339.08 L160.59 338.95 L163.36 338.82 L166.13 338.68 L168.91 338.54 L171.68 338.38 L174.45 338.21 L177.22 338.03 L180 337.84 L182.77 337.64 L185.54 337.43 L188.31 337.2 L191.09 336.95 L193.86 336.69 L196.63 336.42 L199.4 336.12 L202.18 335.81 L204.95 335.47 L207.72 335.12 L210.49 334.74 L213.27 334.34 L216.04 333.91 L218.81 333.45 L221.58 332.96 L224.36 332.44 L227.13 331.89 L229.9 331.3 L232.67 330.67 L235.45 330.01 L238.22 329.3 L240.99 328.54 L243.76 327.73 L246.54 326.87 L249.31 325.96 L252.08 324.99 L254.85 323.95 L257.63 322.84 L260.4 321.67 L263.17 320.42 L265.94 319.08 L268.72 317.66 L271.49 316.15 L274.26 314.54 L277.03 312.83 L279.81 311 L282.58 309.06 L285.35 306.98 L288.12 304.78 L290.9 302.43 L293.67 299.93 L296.44 297.27 L299.21 294.43 L301.99 291.41 L304.76 288.19" stroke="#76A3D2" stroke-opacity="0.92" stroke-width="3.6" stroke-dasharray="7 7" stroke-linecap="round" fill="none"/><rect x="38.5" y="256.5" width="304.5" height="147.8" fill="none" stroke="#454545" stroke-width="1.2"/><rect x="53.6" y="264" width="90" height="64" fill="#fff" stroke="#404040" stroke-width="1"/><rect x="71.3" y="272.3" width="5.4" height="5.4" fill="#F26C5A" stroke="#3b3b3b" stroke-width="0.9"/><text x="90" y="279.5" font-size="12.5" font-family="Liberation Serif" font-style="italic" fill="#222" text-anchor="start">T</text><rect x="71.3" y="293.88" width="4.6" height="4.23" fill="#FFE000" fill-opacity="0.28"/><path d="M71.3 293.88L75.9 298.12M71.3 298.12L75.9 293.88" stroke="#FFD600" stroke-opacity="0.8" stroke-width="1.4" fill="none"/><text x="90" y="300.5" font-size="12.5" font-family="Liberation Serif" font-style="italic" fill="#222" text-anchor="start">T</text><text x="96.2" y="303" font-size="10" font-family="Liberation Serif" font-style="italic" fill="#222" text-anchor="start" textLength="14" lengthAdjust="spacingAndGlyphs">ave</text><path d="M63 317.6H71M76 317.6H84" stroke="#76A3D2" stroke-width="3.6" stroke-linecap="round"/><text x="91" y="319.5" font-size="11" font-family="Liberation Serif" fill="#222" text-anchor="start">11.9<tspan font-style="italic">ϕ</tspan><tspan font-style="italic" font-size="8" dy="1.8">m</tspan><tspan dy="-1.8"> − 6</tspan></text><line x1="405.1" y1="379.6" x2="683.3" y2="379.6" stroke="#DEDEDE" stroke-width="1"/><line x1="405.1" y1="354.9" x2="683.3" y2="354.9" stroke="#DEDEDE" stroke-width="1"/><line x1="405.1" y1="330.2" x2="683.3" y2="330.2" stroke="#DEDEDE" stroke-width="1"/><line x1="405.1" y1="305.5" x2="683.3" y2="305.5" stroke="#DEDEDE" stroke-width="1"/><line x1="405.1" y1="280.8" x2="683.3" y2="280.8" stroke="#DEDEDE" stroke-width="1"/><line x1="497.83" y1="256.1" x2="497.83" y2="404.3" stroke="#DEDEDE" stroke-width="1"/><line x1="590.57" y1="256.1" x2="590.57" y2="404.3" stroke="#DEDEDE" stroke-width="1"/><text x="396.6" y="406.9" font-size="8.6" font-family="Liberation Sans" fill="#1a1a1a" text-anchor="end" textLength="14.11" lengthAdjust="spacingAndGlyphs" stroke="#1a1a1a" stroke-width="0.12">0.0</text><text x="396.6" y="382.2" font-size="8.6" font-family="Liberation Sans" fill="#1a1a1a" text-anchor="end" textLength="14.11" lengthAdjust="spacingAndGlyphs" stroke="#1a1a1a" stroke-width="0.12">0.1</text><text x="396.6" y="357.5" font-size="8.6" font-family="Liberation Sans" fill="#1a1a1a" text-anchor="end" textLength="14.11" lengthAdjust="spacingAndGlyphs" stroke="#1a1a1a" stroke-width="0.12">0.2</text><text x="396.6" y="332.8" font-size="8.6" font-family="Liberation Sans" fill="#1a1a1a" text-anchor="end" textLength="14.11" lengthAdjust="spacingAndGlyphs" stroke="#1a1a1a" stroke-width="0.12">0.3</text><text x="396.6" y="308.1" font-size="8.6" font-family="Liberation Sans" fill="#1a1a1a" text-anchor="end" textLength="14.11" lengthAdjust="spacingAndGlyphs" stroke="#1a1a1a" stroke-width="0.12">0.4</text><text x="396.6" y="283.4" font-size="8.6" font-family="Liberation Sans" fill="#1a1a1a" text-anchor="end" textLength="14.11" lengthAdjust="spacingAndGlyphs" stroke="#1a1a1a" stroke-width="0.12">0.5</text><text x="396.6" y="258.7" font-size="8.6" font-family="Liberation Sans" fill="#1a1a1a" text-anchor="end" textLength="14.11" lengthAdjust="spacingAndGlyphs" stroke="#1a1a1a" stroke-width="0.12">0.6</text><text x="405.1" y="419.5" font-size="8.6" font-family="Liberation Sans" fill="#1a1a1a" text-anchor="middle" textLength="25.82" lengthAdjust="spacingAndGlyphs" stroke="#1a1a1a" stroke-width="0.12">0.001</text><text x="497.83" y="419.5" font-size="8.6" font-family="Liberation Sans" fill="#1a1a1a" text-anchor="middle" textLength="20.08" lengthAdjust="spacingAndGlyphs" stroke="#1a1a1a" stroke-width="0.12">0.01</text><text x="590.57" y="419.5" font-size="8.6" font-family="Liberation Sans" fill="#1a1a1a" text-anchor="middle" textLength="14.34" lengthAdjust="spacingAndGlyphs" stroke="#1a1a1a" stroke-width="0.12">0.1</text><text x="683.3" y="419.5" font-size="8.6" font-family="Liberation Sans" fill="#1a1a1a" text-anchor="middle" textLength="5.74" lengthAdjust="spacingAndGlyphs" stroke="#1a1a1a" stroke-width="0.12">1</text><line x1="445.72" y1="334" x2="445.72" y2="367.4" stroke="#C5962A" stroke-width="1.3"/><line x1="443.52" y1="334" x2="447.92" y2="334" stroke="#C5962A" stroke-width="1.6"/><line x1="443.52" y1="367.4" x2="447.92" y2="367.4" stroke="#C5962A" stroke-width="1.6"/><line x1="475.21" y1="325.4" x2="475.21" y2="357.3" stroke="#C5962A" stroke-width="1.3"/><line x1="473.01" y1="325.4" x2="477.41" y2="325.4" stroke="#C5962A" stroke-width="1.6"/><line x1="473.01" y1="357.3" x2="477.41" y2="357.3" stroke="#C5962A" stroke-width="1.6"/><line x1="477.52" y1="300" x2="477.52" y2="330" stroke="#C5962A" stroke-width="1.3"/><line x1="475.32" y1="300" x2="479.72" y2="300" stroke="#C5962A" stroke-width="1.6"/><line x1="475.32" y1="330" x2="479.72" y2="330" stroke="#C5962A" stroke-width="1.6"/><line x1="479.01" y1="320" x2="479.01" y2="349" stroke="#C5962A" stroke-width="1.3"/><line x1="476.81" y1="320" x2="481.21" y2="320" stroke="#C5962A" stroke-width="1.6"/><line x1="476.81" y1="349" x2="481.21" y2="349" stroke="#C5962A" stroke-width="1.6"/><line x1="483.27" y1="282.2" x2="483.27" y2="355.6" stroke="#C5962A" stroke-width="1.3"/><line x1="481.07" y1="282.2" x2="485.47" y2="282.2" stroke="#C5962A" stroke-width="1.6"/><line x1="481.07" y1="355.6" x2="485.47" y2="355.6" stroke="#C5962A" stroke-width="1.6"/><line x1="525.84" y1="336.4" x2="525.84" y2="357.3" stroke="#C5962A" stroke-width="1.3"/><line x1="523.64" y1="336.4" x2="528.04" y2="336.4" stroke="#C5962A" stroke-width="1.6"/><line x1="523.64" y1="357.3" x2="528.04" y2="357.3" stroke="#C5962A" stroke-width="1.6"/><line x1="533.91" y1="357.2" x2="533.91" y2="368" stroke="#C5962A" stroke-width="1.3"/><line x1="531.71" y1="357.2" x2="536.11" y2="357.2" stroke="#C5962A" stroke-width="1.6"/><line x1="531.71" y1="368" x2="536.11" y2="368" stroke="#C5962A" stroke-width="1.6"/><line x1="537.89" y1="363" x2="537.89" y2="375.4" stroke="#C5962A" stroke-width="1.3"/><line x1="535.69" y1="363" x2="540.09" y2="363" stroke="#C5962A" stroke-width="1.6"/><line x1="535.69" y1="375.4" x2="540.09" y2="375.4" stroke="#C5962A" stroke-width="1.6"/><line x1="555.33" y1="331" x2="555.33" y2="361.7" stroke="#C5962A" stroke-width="1.3"/><line x1="553.13" y1="331" x2="557.53" y2="331" stroke="#C5962A" stroke-width="1.6"/><line x1="553.13" y1="361.7" x2="557.53" y2="361.7" stroke="#C5962A" stroke-width="1.6"/><line x1="571.09" y1="335.1" x2="571.09" y2="370.1" stroke="#C5962A" stroke-width="1.3"/><line x1="568.89" y1="335.1" x2="573.29" y2="335.1" stroke="#C5962A" stroke-width="1.6"/><line x1="568.89" y1="370.1" x2="573.29" y2="370.1" stroke="#C5962A" stroke-width="1.6"/><line x1="575.36" y1="332" x2="575.36" y2="358.9" stroke="#C5962A" stroke-width="1.3"/><line x1="573.16" y1="332" x2="577.56" y2="332" stroke="#C5962A" stroke-width="1.6"/><line x1="573.16" y1="358.9" x2="577.56" y2="358.9" stroke="#C5962A" stroke-width="1.6"/><line x1="580" y1="334.1" x2="580" y2="375.6" stroke="#C5962A" stroke-width="1.3"/><line x1="577.8" y1="334.1" x2="582.2" y2="334.1" stroke="#C5962A" stroke-width="1.6"/><line x1="577.8" y1="375.6" x2="582.2" y2="375.6" stroke="#C5962A" stroke-width="1.6"/><line x1="582.31" y1="339.5" x2="582.31" y2="361.7" stroke="#C5962A" stroke-width="1.3"/><line x1="580.11" y1="339.5" x2="584.51" y2="339.5" stroke="#C5962A" stroke-width="1.6"/><line x1="580.11" y1="361.7" x2="584.51" y2="361.7" stroke="#C5962A" stroke-width="1.6"/><line x1="583.61" y1="343.7" x2="583.61" y2="366" stroke="#C5962A" stroke-width="1.3"/><line x1="581.41" y1="343.7" x2="585.81" y2="343.7" stroke="#C5962A" stroke-width="1.6"/><line x1="581.41" y1="366" x2="585.81" y2="366" stroke="#C5962A" stroke-width="1.6"/><line x1="584.35" y1="343.7" x2="584.35" y2="366" stroke="#C5962A" stroke-width="1.3"/><line x1="582.15" y1="343.7" x2="586.55" y2="343.7" stroke="#C5962A" stroke-width="1.6"/><line x1="582.15" y1="366" x2="586.55" y2="366" stroke="#C5962A" stroke-width="1.6"/><line x1="590.2" y1="342.7" x2="590.2" y2="361.7" stroke="#C5962A" stroke-width="1.3"/><line x1="588" y1="342.7" x2="592.4" y2="342.7" stroke="#C5962A" stroke-width="1.6"/><line x1="588" y1="361.7" x2="592.4" y2="361.7" stroke="#C5962A" stroke-width="1.6"/><line x1="592.51" y1="350.9" x2="592.51" y2="365.5" stroke="#C5962A" stroke-width="1.3"/><line x1="590.31" y1="350.9" x2="594.71" y2="350.9" stroke="#C5962A" stroke-width="1.6"/><line x1="590.31" y1="365.5" x2="594.71" y2="365.5" stroke="#C5962A" stroke-width="1.6"/><line x1="603.55" y1="308.3" x2="603.55" y2="353.4" stroke="#C5962A" stroke-width="1.3"/><line x1="601.35" y1="308.3" x2="605.75" y2="308.3" stroke="#C5962A" stroke-width="1.6"/><line x1="601.35" y1="353.4" x2="605.75" y2="353.4" stroke="#C5962A" stroke-width="1.6"/><line x1="611.71" y1="287" x2="611.71" y2="313.2" stroke="#C5962A" stroke-width="1.3"/><line x1="609.51" y1="287" x2="613.91" y2="287" stroke="#C5962A" stroke-width="1.6"/><line x1="609.51" y1="313.2" x2="613.91" y2="313.2" stroke="#C5962A" stroke-width="1.6"/><line x1="622.93" y1="318.5" x2="622.93" y2="360" stroke="#C5962A" stroke-width="1.3"/><line x1="620.73" y1="318.5" x2="625.13" y2="318.5" stroke="#C5962A" stroke-width="1.6"/><line x1="620.73" y1="360" x2="625.13" y2="360" stroke="#C5962A" stroke-width="1.6"/><line x1="640.09" y1="292.6" x2="640.09" y2="320" stroke="#C5962A" stroke-width="1.3"/><line x1="637.89" y1="292.6" x2="642.29" y2="292.6" stroke="#C5962A" stroke-width="1.6"/><line x1="637.89" y1="320" x2="642.29" y2="320" stroke="#C5962A" stroke-width="1.6"/><line x1="648.43" y1="276.3" x2="648.43" y2="357" stroke="#C5962A" stroke-width="1.3"/><line x1="646.23" y1="276.3" x2="650.63" y2="276.3" stroke="#C5962A" stroke-width="1.6"/><line x1="646.23" y1="357" x2="650.63" y2="357" stroke="#C5962A" stroke-width="1.6"/><line x1="647.97" y1="318.5" x2="647.97" y2="338" stroke="#C5962A" stroke-width="1.3"/><line x1="645.77" y1="338" x2="650.17" y2="338" stroke="#C5962A" stroke-width="1.6"/><rect x="479.12" y="294.45" width="8.3" height="8.3" fill="#F26C5A" stroke="#3b3b3b" stroke-width="1"/><text x="483.27" y="301.5" font-size="8.2" fill="#FFE0D8" fill-opacity="0.62" text-anchor="middle" font-family="Liberation Sans" textLength="3.6" lengthAdjust="spacingAndGlyphs">1</text><rect x="474.86" y="311.05" width="8.3" height="8.3" fill="#F26C5A" stroke="#3b3b3b" stroke-width="1"/><text x="479.01" y="318.1" font-size="8.2" fill="#FFE0D8" fill-opacity="0.62" text-anchor="middle" font-family="Liberation Sans" textLength="3.6" lengthAdjust="spacingAndGlyphs">2</text><rect x="473.37" y="285.15" width="8.3" height="8.3" fill="#F26C5A" stroke="#3b3b3b" stroke-width="1"/><text x="477.52" y="292.2" font-size="8.2" fill="#FFE0D8" fill-opacity="0.62" text-anchor="middle" font-family="Liberation Sans" textLength="3.6" lengthAdjust="spacingAndGlyphs">3</text><rect x="566.94" y="317.15" width="8.3" height="8.3" fill="#F26C5A" stroke="#3b3b3b" stroke-width="1"/><text x="571.09" y="324.2" font-size="8.2" fill="#FFE0D8" fill-opacity="0.62" text-anchor="middle" font-family="Liberation Sans" textLength="3.6" lengthAdjust="spacingAndGlyphs">4</text><rect x="551.18" y="327.15" width="8.3" height="8.3" fill="#F26C5A" stroke="#3b3b3b" stroke-width="1"/><text x="555.33" y="334.2" font-size="8.2" fill="#FFE0D8" fill-opacity="0.62" text-anchor="middle" font-family="Liberation Sans" textLength="3.6" lengthAdjust="spacingAndGlyphs">5</text><rect x="575.85" y="312.45" width="8.3" height="8.3" fill="#F26C5A" stroke="#3b3b3b" stroke-width="1"/><text x="580" y="319.5" font-size="8.2" fill="#FFE0D8" fill-opacity="0.62" text-anchor="middle" font-family="Liberation Sans" textLength="3.6" lengthAdjust="spacingAndGlyphs">6</text><rect x="607.56" y="278.05" width="8.3" height="8.3" fill="#F26C5A" stroke="#3b3b3b" stroke-width="1"/><text x="611.71" y="285.1" font-size="8.2" fill="#FFE0D8" fill-opacity="0.62" text-anchor="middle" font-family="Liberation Sans" textLength="3.6" lengthAdjust="spacingAndGlyphs">7</text><rect x="571.21" y="305.05" width="8.3" height="8.3" fill="#F26C5A" stroke="#3b3b3b" stroke-width="1"/><text x="575.36" y="312.1" font-size="8.2" fill="#FFE0D8" fill-opacity="0.62" text-anchor="middle" font-family="Liberation Sans" textLength="3.6" lengthAdjust="spacingAndGlyphs">8</text><rect x="578.16" y="302.15" width="8.3" height="8.3" fill="#F26C5A" stroke="#3b3b3b" stroke-width="1"/><text x="582.31" y="309.2" font-size="8.2" fill="#FFE0D8" fill-opacity="0.62" text-anchor="middle" font-family="Liberation Sans" textLength="3.6" lengthAdjust="spacingAndGlyphs">9</text><rect x="586.05" y="306.05" width="8.3" height="8.3" fill="#F26C5A" stroke="#3b3b3b" stroke-width="1"/><text x="590.2" y="313.1" font-size="8.2" fill="#FFE0D8" fill-opacity="0.62" text-anchor="middle" font-family="Liberation Sans" textLength="6.8" lengthAdjust="spacingAndGlyphs">10</text><rect x="580.2" y="317.85" width="8.3" height="8.3" fill="#F26C5A" stroke="#3b3b3b" stroke-width="1"/><text x="584.35" y="324.9" font-size="8.2" fill="#FFE0D8" fill-opacity="0.62" text-anchor="middle" font-family="Liberation Sans" textLength="6.8" lengthAdjust="spacingAndGlyphs">11</text><rect x="579.46" y="323.35" width="8.3" height="8.3" fill="#F26C5A" stroke="#3b3b3b" stroke-width="1"/><text x="583.61" y="330.4" font-size="8.2" fill="#FFE0D8" fill-opacity="0.62" text-anchor="middle" font-family="Liberation Sans" textLength="6.8" lengthAdjust="spacingAndGlyphs">12</text><rect x="588.36" y="318.65" width="8.3" height="8.3" fill="#F26C5A" stroke="#3b3b3b" stroke-width="1"/><text x="592.51" y="325.7" font-size="8.2" fill="#FFE0D8" fill-opacity="0.62" text-anchor="middle" font-family="Liberation Sans" textLength="6.8" lengthAdjust="spacingAndGlyphs">13</text><rect x="644.28" y="310.85" width="8.3" height="8.3" fill="#F26C5A" stroke="#3b3b3b" stroke-width="1"/><text x="648.43" y="317.9" font-size="8.2" fill="#FFE0D8" fill-opacity="0.62" text-anchor="middle" font-family="Liberation Sans" textLength="6.8" lengthAdjust="spacingAndGlyphs">14</text><rect x="644.65" y="324.05" width="8.3" height="8.3" fill="#F26C5A" stroke="#3b3b3b" stroke-width="1"/><text x="648.8" y="331.1" font-size="8.2" fill="#FFE0D8" fill-opacity="0.62" text-anchor="middle" font-family="Liberation Sans" textLength="6.8" lengthAdjust="spacingAndGlyphs">15</text><rect x="529.76" y="307.85" width="8.3" height="8.3" fill="#F26C5A" stroke="#3b3b3b" stroke-width="1"/><text x="533.91" y="314.9" font-size="8.2" fill="#FFE0D8" fill-opacity="0.62" text-anchor="middle" font-family="Liberation Sans" textLength="6.8" lengthAdjust="spacingAndGlyphs">16</text><rect x="521.69" y="303.75" width="8.3" height="8.3" fill="#F26C5A" stroke="#3b3b3b" stroke-width="1"/><text x="525.84" y="310.8" font-size="8.2" fill="#FFE0D8" fill-opacity="0.62" text-anchor="middle" font-family="Liberation Sans" textLength="6.8" lengthAdjust="spacingAndGlyphs">17</text><rect x="533.74" y="312.65" width="8.3" height="8.3" fill="#F26C5A" stroke="#3b3b3b" stroke-width="1"/><text x="537.89" y="319.7" font-size="8.2" fill="#FFE0D8" fill-opacity="0.62" text-anchor="middle" font-family="Liberation Sans" textLength="6.8" lengthAdjust="spacingAndGlyphs">18</text><rect x="471.06" y="301.45" width="8.3" height="8.3" fill="#F26C5A" stroke="#3b3b3b" stroke-width="1"/><text x="475.21" y="308.5" font-size="8.2" fill="#FFE0D8" fill-opacity="0.62" text-anchor="middle" font-family="Liberation Sans" textLength="6.8" lengthAdjust="spacingAndGlyphs">19</text><rect x="441.57" y="303.95" width="8.3" height="8.3" fill="#F26C5A" stroke="#3b3b3b" stroke-width="1"/><text x="445.72" y="311" font-size="8.2" fill="#FFE0D8" fill-opacity="0.62" text-anchor="middle" font-family="Liberation Sans" textLength="6.8" lengthAdjust="spacingAndGlyphs">20</text><rect x="618.78" y="326.25" width="8.3" height="8.3" fill="#F26C5A" stroke="#3b3b3b" stroke-width="1"/><text x="622.93" y="333.3" font-size="8.2" fill="#FFE0D8" fill-opacity="0.62" text-anchor="middle" font-family="Liberation Sans" textLength="6.8" lengthAdjust="spacingAndGlyphs">21</text><rect x="599.4" y="310.25" width="8.3" height="8.3" fill="#F26C5A" stroke="#3b3b3b" stroke-width="1"/><text x="603.55" y="317.3" font-size="8.2" fill="#FFE0D8" fill-opacity="0.62" text-anchor="middle" font-family="Liberation Sans" textLength="6.8" lengthAdjust="spacingAndGlyphs">22</text><rect x="635.94" y="312.85" width="8.3" height="8.3" fill="#F26C5A" stroke="#3b3b3b" stroke-width="1"/><text x="640.09" y="319.9" font-size="8.2" fill="#FFE0D8" fill-opacity="0.62" text-anchor="middle" font-family="Liberation Sans" textLength="6.8" lengthAdjust="spacingAndGlyphs">23</text><rect x="643.82" y="314.15" width="8.3" height="8.3" fill="#F26C5A" stroke="#3b3b3b" stroke-width="1"/><text x="647.97" y="321.2" font-size="8.2" fill="#FFE0D8" fill-opacity="0.62" text-anchor="middle" font-family="Liberation Sans" textLength="6.8" lengthAdjust="spacingAndGlyphs">24</text><rect x="478.97" y="315.04" width="8.6" height="7.91" fill="#FFE000" fill-opacity="0.28"/><path d="M478.97 315.04L487.57 322.96M478.97 322.96L487.57 315.04" stroke="#FFD600" stroke-opacity="0.8" stroke-width="1.2" fill="none"/><rect x="474.71" y="326.54" width="8.6" height="7.91" fill="#FFE000" fill-opacity="0.28"/><path d="M474.71 326.54L483.31 334.46M474.71 334.46L483.31 326.54" stroke="#FFD600" stroke-opacity="0.8" stroke-width="1.2" fill="none"/><rect x="473.22" y="310.04" width="8.6" height="7.91" fill="#FFE000" fill-opacity="0.28"/><path d="M473.22 310.04L481.82 317.96M473.22 317.96L481.82 310.04" stroke="#FFD600" stroke-opacity="0.8" stroke-width="1.2" fill="none"/><rect x="566.79" y="348.84" width="8.6" height="7.91" fill="#FFE000" fill-opacity="0.28"/><path d="M566.79 348.84L575.39 356.76M566.79 356.76L575.39 348.84" stroke="#FFD600" stroke-opacity="0.8" stroke-width="1.2" fill="none"/><rect x="551.03" y="343.34" width="8.6" height="7.91" fill="#FFE000" fill-opacity="0.28"/><path d="M551.03 343.34L559.63 351.26M551.03 351.26L559.63 343.34" stroke="#FFD600" stroke-opacity="0.8" stroke-width="1.2" fill="none"/><rect x="575.7" y="349.44" width="8.6" height="7.91" fill="#FFE000" fill-opacity="0.28"/><path d="M575.7 349.44L584.3 357.36M575.7 357.36L584.3 349.44" stroke="#FFD600" stroke-opacity="0.8" stroke-width="1.2" fill="none"/><rect x="607.41" y="293.44" width="8.6" height="7.91" fill="#FFE000" fill-opacity="0.28"/><path d="M607.41 293.44L616.01 301.36M607.41 301.36L616.01 293.44" stroke="#FFD600" stroke-opacity="0.8" stroke-width="1.2" fill="none"/><rect x="571.06" y="341.24" width="8.6" height="7.91" fill="#FFE000" fill-opacity="0.28"/><path d="M571.06 341.24L579.66 349.16M571.06 349.16L579.66 341.24" stroke="#FFD600" stroke-opacity="0.8" stroke-width="1.2" fill="none"/><rect x="578.01" y="352.04" width="8.6" height="7.91" fill="#FFE000" fill-opacity="0.28"/><path d="M578.01 352.04L586.61 359.96M578.01 359.96L586.61 352.04" stroke="#FFD600" stroke-opacity="0.8" stroke-width="1.2" fill="none"/><rect x="585.9" y="347.54" width="8.6" height="7.91" fill="#FFE000" fill-opacity="0.28"/><path d="M585.9 347.54L594.5 355.46M585.9 355.46L594.5 347.54" stroke="#FFD600" stroke-opacity="0.8" stroke-width="1.2" fill="none"/><rect x="580.05" y="350.04" width="8.6" height="7.91" fill="#FFE000" fill-opacity="0.28"/><path d="M580.05 350.04L588.65 357.96M580.05 357.96L588.65 350.04" stroke="#FFD600" stroke-opacity="0.8" stroke-width="1.2" fill="none"/><rect x="579.31" y="352.04" width="8.6" height="7.91" fill="#FFE000" fill-opacity="0.28"/><path d="M579.31 352.04L587.91 359.96M579.31 359.96L587.91 352.04" stroke="#FFD600" stroke-opacity="0.8" stroke-width="1.2" fill="none"/><rect x="588.21" y="353.94" width="8.6" height="7.91" fill="#FFE000" fill-opacity="0.28"/><path d="M588.21 353.94L596.81 361.86M588.21 361.86L596.81 353.94" stroke="#FFD600" stroke-opacity="0.8" stroke-width="1.2" fill="none"/><rect x="644.13" y="296.34" width="8.6" height="7.91" fill="#FFE000" fill-opacity="0.28"/><path d="M644.13 296.34L652.73 304.26M644.13 304.26L652.73 296.34" stroke="#FFD600" stroke-opacity="0.8" stroke-width="1.2" fill="none"/><rect x="644.5" y="325.04" width="8.6" height="7.91" fill="#FFE000" fill-opacity="0.28"/><path d="M644.5 325.04L653.1 332.96M644.5 332.96L653.1 325.04" stroke="#FFD600" stroke-opacity="0.8" stroke-width="1.2" fill="none"/><rect x="529.61" y="358.24" width="8.6" height="7.91" fill="#FFE000" fill-opacity="0.28"/><path d="M529.61 358.24L538.21 366.16M529.61 366.16L538.21 358.24" stroke="#FFD600" stroke-opacity="0.8" stroke-width="1.2" fill="none"/><rect x="521.54" y="342.84" width="8.6" height="7.91" fill="#FFE000" fill-opacity="0.28"/><path d="M521.54 342.84L530.14 350.76M521.54 350.76L530.14 342.84" stroke="#FFD600" stroke-opacity="0.8" stroke-width="1.2" fill="none"/><rect x="533.59" y="365.04" width="8.6" height="7.91" fill="#FFE000" fill-opacity="0.28"/><path d="M533.59 365.04L542.19 372.96M533.59 372.96L542.19 365.04" stroke="#FFD600" stroke-opacity="0.8" stroke-width="1.2" fill="none"/><rect x="470.91" y="337.24" width="8.6" height="7.91" fill="#FFE000" fill-opacity="0.28"/><path d="M470.91 337.24L479.51 345.16M470.91 345.16L479.51 337.24" stroke="#FFD600" stroke-opacity="0.8" stroke-width="1.2" fill="none"/><rect x="441.42" y="347.04" width="8.6" height="7.91" fill="#FFE000" fill-opacity="0.28"/><path d="M441.42 347.04L450.02 354.96M441.42 354.96L450.02 347.04" stroke="#FFD600" stroke-opacity="0.8" stroke-width="1.2" fill="none"/><rect x="618.63" y="335.44" width="8.6" height="7.91" fill="#FFE000" fill-opacity="0.28"/><path d="M618.63 335.44L627.23 343.36M618.63 343.36L627.23 335.44" stroke="#FFD600" stroke-opacity="0.8" stroke-width="1.2" fill="none"/><rect x="599.25" y="327.04" width="8.6" height="7.91" fill="#FFE000" fill-opacity="0.28"/><path d="M599.25 327.04L607.85 334.96M599.25 334.96L607.85 327.04" stroke="#FFD600" stroke-opacity="0.8" stroke-width="1.2" fill="none"/><rect x="635.79" y="302.34" width="8.6" height="7.91" fill="#FFE000" fill-opacity="0.28"/><path d="M635.79 302.34L644.39 310.26M635.79 310.26L644.39 302.34" stroke="#FFD600" stroke-opacity="0.8" stroke-width="1.2" fill="none"/><rect x="643.67" y="314.54" width="8.6" height="7.91" fill="#FFE000" fill-opacity="0.28"/><path d="M643.67 314.54L652.27 322.46M643.67 322.46L652.27 314.54" stroke="#FFD600" stroke-opacity="0.8" stroke-width="1.2" fill="none"/><rect x="405.1" y="256.1" width="278.2" height="148.2" fill="none" stroke="#454545" stroke-width="1.2"/><rect x="597.4" y="364.6" width="82.2" height="37" fill="#fff" stroke="#404040" stroke-width="1"/><rect x="617.3" y="380.7" width="5.4" height="5.4" fill="#F26C5A" stroke="#3b3b3b" stroke-width="0.9"/><text x="625" y="386.5" font-size="12.5" font-family="Liberation Serif" font-style="italic" fill="#222" text-anchor="start">c</text><rect x="649.3" y="381.28" width="4.6" height="4.23" fill="#FFE000" fill-opacity="0.28"/><path d="M649.3 381.28L653.9 385.52M649.3 385.52L653.9 381.28" stroke="#FFD600" stroke-opacity="0.8" stroke-width="1.4" fill="none"/><text x="656" y="386.5" font-size="12.5" font-family="Liberation Serif" font-style="italic" fill="#222" text-anchor="start">c</text><text x="661.2" y="389.2" font-size="10" font-family="Liberation Serif" font-style="italic" fill="#222" text-anchor="start" textLength="14" lengthAdjust="spacingAndGlyphs">ave</text><text x="22.4" y="12" font-size="15" font-family="Liberation Sans" fill="#111" text-anchor="start" textLength="15.6" lengthAdjust="spacingAndGlyphs" stroke="#111" stroke-width="0.3">(a)</text><text x="381" y="12.4" font-size="15" font-family="Liberation Sans" fill="#111" text-anchor="start" textLength="16.6" lengthAdjust="spacingAndGlyphs" stroke="#111" stroke-width="0.3">(b)</text><text x="22.6" y="236.6" font-size="15" font-family="Liberation Sans" fill="#111" text-anchor="start" textLength="15.4" lengthAdjust="spacingAndGlyphs" stroke="#111" stroke-width="0.3">(c)</text><text x="385" y="236.6" font-size="15" font-family="Liberation Sans" fill="#111" text-anchor="start" textLength="17" lengthAdjust="spacingAndGlyphs" stroke="#111" stroke-width="0.3">(d)</text><text x="138.4" y="13.7" font-size="13.8" font-family="Liberation Sans" fill="#111" text-anchor="start" textLength="98.8" lengthAdjust="spacingAndGlyphs" stroke="#111" stroke-width="0.15">Chargeability <tspan font-style="italic">m</tspan></text><text x="459.6" y="14.4" font-size="13.8" font-family="Liberation Sans" fill="#111" text-anchor="start" textLength="166.8" lengthAdjust="spacingAndGlyphs" stroke="#111" stroke-width="0.15">log 10 Formation factor <tspan font-style="italic">F</tspan></text><text x="69" y="241" font-size="13.8" font-family="Liberation Sans" fill="#111" text-anchor="start" textLength="232" lengthAdjust="spacingAndGlyphs" stroke="#111" stroke-width="0.15">log 10 Relaxation time coefficient <tspan font-style="italic">T</tspan></text><text x="472.9" y="243.1" font-size="13.8" font-family="Liberation Sans" fill="#111" text-anchor="start" textLength="145.9" lengthAdjust="spacingAndGlyphs" stroke="#111" stroke-width="0.15">Frequency exponent <tspan font-style="italic">c</tspan></text><text x="1" y="115" font-size="16" font-family="Liberation Serif" font-style="italic" fill="#111" text-anchor="start">m</text><text x="369.3" y="114.7" font-size="14.5" font-family="Liberation Serif" font-style="italic" fill="#111" text-anchor="start">F</text><text x="8" y="338.5" font-size="14.5" font-family="Liberation Serif" font-style="italic" fill="#111" text-anchor="start">T</text><text x="369.5" y="338" font-size="15" font-family="Liberation Serif" font-style="italic" fill="#111" text-anchor="start">c</text><text x="176.3" y="211.5" font-size="17" font-family="Liberation Serif" font-style="italic" fill="#111" text-anchor="start">ϕ<tspan font-size="13.5" dy="2.8">m</tspan></text><text x="538.7" y="211.8" font-size="17" font-family="Liberation Serif" font-style="italic" fill="#111" text-anchor="start">ϕ<tspan font-size="13.5" dy="2.8">m</tspan></text><text x="172" y="431" font-size="17" font-family="Liberation Serif" font-style="italic" fill="#111" text-anchor="start">ϕ<tspan font-size="13.5" dy="2.8">m</tspan></text><text x="547.4" y="430.7" font-size="17" font-family="Liberation Serif" font-style="italic" fill="#111" text-anchor="start">ϕ<tspan font-size="13.5" dy="2.8">m</tspan></text></svg></body></html>
